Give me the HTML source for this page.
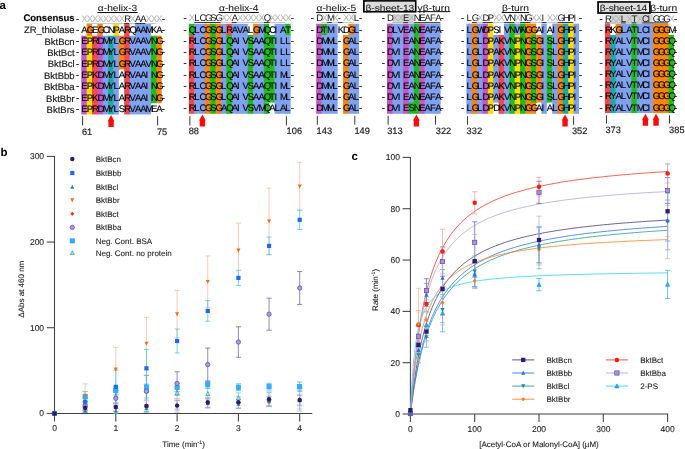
<!DOCTYPE html>
<html lang="en">
<head>
<meta charset="utf-8">
<title>Figure: thiolase alignment and kinetics</title>
<style>
html,body{margin:0;padding:0;background:#fff;}
body{width:685px;height:449px;overflow:hidden;}
svg{display:block;font-family:"Liberation Sans", Arial, Helvetica, sans-serif;text-rendering:geometricPrecision;}
.hv text{stroke:#111;stroke-width:.16px;}
.tt text{stroke:#1a1a1a;stroke-width:.08px;}
.ct text{stroke:#1c1c1c;stroke-width:.1px;}
.hv text[fill='#b4b4b4'],.hv text.cs{stroke:none;}
</style>
</head>
<body>
<svg width="685" height="449" viewBox="0 0 685 449">
<rect width="685" height="449" fill="#fff"/>
<g id="aln" font-size="9.5px" class="hv">
<text x="74.6" y="21.3" font-size="9.5px" text-anchor="end" fill="#1a1a1a" font-weight="bold" style="fill:#000">Consensus</text>
<text x="74.6" y="32.85" font-size="9.5px" text-anchor="end" fill="#1a1a1a">ZR_thiolase</text>
<text x="74.6" y="44.7" font-size="9.5px" text-anchor="end" fill="#1a1a1a">BktBcn</text>
<text x="74.6" y="56.06" font-size="9.5px" text-anchor="end" fill="#1a1a1a">BktBct</text>
<text x="74.6" y="67.42" font-size="9.5px" text-anchor="end" fill="#1a1a1a">BktBcl</text>
<text x="74.6" y="78.78" font-size="9.5px" text-anchor="end" fill="#1a1a1a">BktBbb</text>
<text x="74.6" y="90.14" font-size="9.5px" text-anchor="end" fill="#1a1a1a">BktBba</text>
<text x="74.6" y="101.5" font-size="9.5px" text-anchor="end" fill="#1a1a1a">BktBbr</text>
<text x="74.6" y="112.86" font-size="9.5px" text-anchor="end" fill="#1a1a1a">BktBrs</text>
<g class="blk">
<rect x="86.66" y="24" width="5.36" height="12.3" fill="#ff8608"/>
<rect x="97.38" y="24" width="5.36" height="12.3" fill="#ff8608"/>
<rect x="113.46" y="24" width="5.36" height="12.3" fill="#ffdc00"/>
<rect x="124.18" y="24" width="5.36" height="12.3" fill="#f04a4e"/>
<rect x="134.9" y="24" width="16.08" height="12.3" fill="#80a0f0"/>
<rect x="81.3" y="35.7" width="5.96" height="11.85" fill="#c456c8"/>
<rect x="86.66" y="35.7" width="5.96" height="11.85" fill="#ffdc00"/>
<rect x="92.02" y="35.7" width="5.96" height="11.85" fill="#f04a4e"/>
<rect x="97.38" y="35.7" width="5.96" height="11.85" fill="#c456c8"/>
<rect x="102.74" y="35.7" width="5.96" height="11.85" fill="#80a0f0"/>
<rect x="108.1" y="35.7" width="5.96" height="11.85" fill="#18a8a8"/>
<rect x="113.46" y="35.7" width="5.96" height="11.85" fill="#80a0f0"/>
<rect x="118.82" y="35.7" width="5.96" height="11.85" fill="#ff8608"/>
<rect x="124.18" y="35.7" width="5.96" height="11.85" fill="#f04a4e"/>
<rect x="129.54" y="35.7" width="22.04" height="11.85" fill="#80a0f0"/>
<rect x="150.98" y="35.7" width="5.96" height="11.85" fill="#1ac01a"/>
<rect x="156.34" y="35.7" width="5.36" height="11.85" fill="#ff8608"/>
<rect x="81.3" y="46.95" width="5.96" height="11.85" fill="#c456c8"/>
<rect x="86.66" y="46.95" width="5.96" height="11.85" fill="#ffdc00"/>
<rect x="92.02" y="46.95" width="5.96" height="11.85" fill="#f04a4e"/>
<rect x="97.38" y="46.95" width="5.96" height="11.85" fill="#c456c8"/>
<rect x="102.74" y="46.95" width="5.96" height="11.85" fill="#80a0f0"/>
<rect x="108.1" y="46.95" width="5.96" height="11.85" fill="#18a8a8"/>
<rect x="113.46" y="46.95" width="5.96" height="11.85" fill="#80a0f0"/>
<rect x="118.82" y="46.95" width="5.96" height="11.85" fill="#ff8608"/>
<rect x="124.18" y="46.95" width="5.96" height="11.85" fill="#f04a4e"/>
<rect x="129.54" y="46.95" width="22.04" height="11.85" fill="#80a0f0"/>
<rect x="150.98" y="46.95" width="5.96" height="11.85" fill="#1ac01a"/>
<rect x="156.34" y="46.95" width="5.36" height="11.85" fill="#ff8608"/>
<rect x="81.3" y="58.2" width="5.96" height="11.85" fill="#c456c8"/>
<rect x="86.66" y="58.2" width="5.96" height="11.85" fill="#ffdc00"/>
<rect x="92.02" y="58.2" width="5.96" height="11.85" fill="#f04a4e"/>
<rect x="97.38" y="58.2" width="5.96" height="11.85" fill="#c456c8"/>
<rect x="102.74" y="58.2" width="5.96" height="11.85" fill="#80a0f0"/>
<rect x="108.1" y="58.2" width="5.96" height="11.85" fill="#18a8a8"/>
<rect x="113.46" y="58.2" width="5.96" height="11.85" fill="#80a0f0"/>
<rect x="118.82" y="58.2" width="5.96" height="11.25" fill="#ff8608"/>
<rect x="124.18" y="58.2" width="5.96" height="11.85" fill="#f04a4e"/>
<rect x="129.54" y="58.2" width="22.04" height="11.85" fill="#80a0f0"/>
<rect x="150.98" y="58.2" width="5.96" height="11.85" fill="#1ac01a"/>
<rect x="156.34" y="58.2" width="5.36" height="11.85" fill="#ff8608"/>
<rect x="81.3" y="69.45" width="5.96" height="11.85" fill="#c456c8"/>
<rect x="86.66" y="69.45" width="5.96" height="11.85" fill="#ffdc00"/>
<rect x="92.02" y="69.45" width="5.96" height="11.85" fill="#f04a4e"/>
<rect x="97.38" y="69.45" width="5.96" height="11.85" fill="#c456c8"/>
<rect x="102.74" y="69.45" width="5.96" height="11.85" fill="#80a0f0"/>
<rect x="108.1" y="69.45" width="5.96" height="11.85" fill="#18a8a8"/>
<rect x="113.46" y="69.45" width="5.36" height="11.85" fill="#80a0f0"/>
<rect x="124.18" y="69.45" width="5.96" height="11.85" fill="#f04a4e"/>
<rect x="129.54" y="69.45" width="22.04" height="11.85" fill="#80a0f0"/>
<rect x="150.98" y="69.45" width="5.96" height="11.85" fill="#1ac01a"/>
<rect x="156.34" y="69.45" width="5.36" height="11.85" fill="#ff8608"/>
<rect x="81.3" y="80.7" width="5.96" height="11.85" fill="#c456c8"/>
<rect x="86.66" y="80.7" width="5.96" height="11.85" fill="#ffdc00"/>
<rect x="92.02" y="80.7" width="5.96" height="11.85" fill="#f04a4e"/>
<rect x="97.38" y="80.7" width="5.96" height="11.85" fill="#c456c8"/>
<rect x="102.74" y="80.7" width="5.96" height="11.85" fill="#80a0f0"/>
<rect x="108.1" y="80.7" width="5.96" height="11.85" fill="#18a8a8"/>
<rect x="113.46" y="80.7" width="5.36" height="11.85" fill="#80a0f0"/>
<rect x="124.18" y="80.7" width="5.96" height="11.85" fill="#f04a4e"/>
<rect x="129.54" y="80.7" width="22.04" height="11.85" fill="#80a0f0"/>
<rect x="150.98" y="80.7" width="5.96" height="11.85" fill="#1ac01a"/>
<rect x="156.34" y="80.7" width="5.36" height="11.85" fill="#ff8608"/>
<rect x="81.3" y="91.95" width="5.96" height="11.85" fill="#c456c8"/>
<rect x="86.66" y="91.95" width="5.96" height="11.85" fill="#ffdc00"/>
<rect x="92.02" y="91.95" width="5.96" height="11.85" fill="#f04a4e"/>
<rect x="97.38" y="91.95" width="5.96" height="11.85" fill="#c456c8"/>
<rect x="102.74" y="91.95" width="5.96" height="11.85" fill="#80a0f0"/>
<rect x="108.1" y="91.95" width="5.96" height="11.85" fill="#18a8a8"/>
<rect x="113.46" y="91.95" width="5.36" height="11.85" fill="#80a0f0"/>
<rect x="124.18" y="91.95" width="5.96" height="11.85" fill="#f04a4e"/>
<rect x="129.54" y="91.95" width="22.04" height="11.85" fill="#80a0f0"/>
<rect x="150.98" y="91.95" width="5.96" height="11.25" fill="#1ac01a"/>
<rect x="156.34" y="91.95" width="5.36" height="11.25" fill="#ff8608"/>
<rect x="81.3" y="103.2" width="5.96" height="11.25" fill="#c456c8"/>
<rect x="86.66" y="103.2" width="5.96" height="11.25" fill="#ffdc00"/>
<rect x="92.02" y="103.2" width="5.96" height="11.25" fill="#f04a4e"/>
<rect x="97.38" y="103.2" width="5.96" height="11.25" fill="#c456c8"/>
<rect x="102.74" y="103.2" width="5.96" height="11.25" fill="#80a0f0"/>
<rect x="108.1" y="103.2" width="5.96" height="11.25" fill="#18a8a8"/>
<rect x="113.46" y="103.2" width="5.36" height="11.25" fill="#80a0f0"/>
<rect x="124.18" y="103.2" width="5.96" height="11.25" fill="#f04a4e"/>
<rect x="129.54" y="103.2" width="21.44" height="11.25" fill="#80a0f0"/>
<rect x="86.66" y="23.05" width="69.68" height="0.7" fill="#b0b0b0"/>
<rect x="124.38" y="22.98" width="4.76" height="0.85" fill="#1a1a1a"/>
<rect x="135.1" y="22.98" width="10.12" height="0.85" fill="#1a1a1a"/>
<text class="cs" x="81.3 86.66 92.02 97.38 102.74 108.1 113.46 118.82 124.18 129.54 134.9 140.26 145.62 150.98 156.34" y="21.75" fill="#111"><tspan fill="#b4b4b4">XXXXXXXX</tspan>R<tspan fill="#b4b4b4">X</tspan>AA<tspan fill="#b4b4b4">XXX</tspan></text>
<text x="75.94" y="21.75" fill="#111">-</text>
<text x="161.7" y="21.75" fill="#111">-</text>
<text x="75.94" y="33.15" fill="#111">-</text>
<text x="161.7" y="33.15" fill="#111">-</text>
<text x="81.3 86.66 92.02 97.38 102.74 108.1 113.46 118.82 124.18 129.54 134.9 140.26 145.62 150.98 156.34" y="33.15" fill="#000">AGEGCNPARQAAMKA</text>
<text x="75.94" y="43.95" fill="#111">-</text>
<text x="161.7" y="43.95" fill="#111">-</text>
<text x="81.3 86.66 92.02 97.38 102.74 108.1 113.46 118.82 124.18 129.54 134.9 140.26 145.62 150.98 156.34" y="43.95" fill="#000">EPRDMYLGRVAAVNG</text>
<text x="75.94" y="55.29" fill="#111">-</text>
<text x="161.7" y="55.29" fill="#111">-</text>
<text x="81.3 86.66 92.02 97.38 102.74 108.1 113.46 118.82 124.18 129.54 134.9 140.26 145.62 150.98 156.34" y="55.29" fill="#000">EPRDMYLGRVAAVNG</text>
<text x="75.94" y="66.63" fill="#111">-</text>
<text x="161.7" y="66.63" fill="#111">-</text>
<text x="81.3 86.66 92.02 97.38 102.74 108.1 113.46 118.82 124.18 129.54 134.9 140.26 145.62 150.98 156.34" y="66.63" fill="#000">EPRDMYLGRVAAVNG</text>
<text x="75.94" y="77.97" fill="#111">-</text>
<text x="161.7" y="77.97" fill="#111">-</text>
<text x="81.3 86.66 92.02 97.38 102.74 108.1 113.46 118.82 124.18 129.54 134.9 140.26 145.62 150.98 156.34" y="77.97" fill="#000">EPKDMYLARVAAING</text>
<text x="75.94" y="89.31" fill="#111">-</text>
<text x="161.7" y="89.31" fill="#111">-</text>
<text x="81.3 86.66 92.02 97.38 102.74 108.1 113.46 118.82 124.18 129.54 134.9 140.26 145.62 150.98 156.34" y="89.31" fill="#000">EPKDMYLARVAAING</text>
<text x="75.94" y="100.65" fill="#111">-</text>
<text x="161.7" y="100.65" fill="#111">-</text>
<text x="81.3 86.66 92.02 97.38 102.74 108.1 113.46 118.82 124.18 129.54 134.9 140.26 145.62 150.98 156.34" y="100.65" fill="#000">EPKDMYLARVAAING</text>
<text x="75.94" y="111.99" fill="#111">-</text>
<text x="161.7" y="111.99" fill="#111">-</text>
<text x="81.3 86.66 92.02 97.38 102.74 108.1 113.46 118.82 124.18 129.54 134.9 140.26 145.62 150.98 156.34" y="111.99" fill="#000">EPRDMYLSRVAAMEA</text>
<rect x="82.15" y="116.2" width="0.9" height="9.2" fill="#222"/>
<text x="81.9" y="134.7" font-size="9.3px" fill="#1a1a1a">61</text>
<rect x="157.19" y="116.2" width="0.9" height="9.2" fill="#222"/>
<text x="156.94" y="134.7" font-size="9.3px" fill="#1a1a1a">75</text>
<path d="M111.08 115.05 l3.35 6.1 h-0.65 v5.9 h-5.4 v-5.9 h-0.65 z" fill="#ff0a0a"/>
</g>
<g class="blk">
<rect x="188.8" y="23.8" width="5.96" height="11.85" fill="#1ac01a"/>
<rect x="194.16" y="23.8" width="11.32" height="11.85" fill="#80a0f0"/>
<rect x="204.88" y="23.8" width="5.96" height="11.85" fill="#ff8608"/>
<rect x="210.24" y="23.8" width="5.96" height="11.85" fill="#1ac01a"/>
<rect x="215.6" y="23.8" width="5.96" height="11.85" fill="#ff8608"/>
<rect x="220.96" y="23.8" width="5.96" height="11.85" fill="#80a0f0"/>
<rect x="226.32" y="23.8" width="5.96" height="11.85" fill="#f04a4e"/>
<rect x="231.68" y="23.8" width="16.08" height="11.85" fill="#80a0f0"/>
<rect x="253.12" y="23.8" width="5.96" height="11.85" fill="#ff8608"/>
<rect x="258.48" y="23.8" width="5.96" height="11.85" fill="#80a0f0"/>
<rect x="263.84" y="23.8" width="5.36" height="11.85" fill="#1ac01a"/>
<rect x="274.56" y="23.8" width="11.32" height="11.85" fill="#80a0f0"/>
<rect x="285.28" y="23.8" width="5.36" height="11.85" fill="#1ac01a"/>
<rect x="188.8" y="35.05" width="5.96" height="11.85" fill="#f04a4e"/>
<rect x="194.16" y="35.05" width="11.32" height="11.85" fill="#80a0f0"/>
<rect x="204.88" y="35.05" width="5.96" height="11.85" fill="#ff8608"/>
<rect x="210.24" y="35.05" width="5.96" height="11.85" fill="#1ac01a"/>
<rect x="215.6" y="35.05" width="5.96" height="11.85" fill="#ff8608"/>
<rect x="220.96" y="35.05" width="5.96" height="11.85" fill="#80a0f0"/>
<rect x="226.32" y="35.05" width="5.96" height="11.85" fill="#1ac01a"/>
<rect x="231.68" y="35.05" width="16.68" height="11.85" fill="#80a0f0"/>
<rect x="247.76" y="35.05" width="5.96" height="11.85" fill="#1ac01a"/>
<rect x="253.12" y="35.05" width="11.32" height="11.85" fill="#80a0f0"/>
<rect x="263.84" y="35.05" width="11.32" height="11.85" fill="#1ac01a"/>
<rect x="274.56" y="35.05" width="16.08" height="11.85" fill="#80a0f0"/>
<rect x="188.8" y="46.3" width="5.96" height="11.85" fill="#f04a4e"/>
<rect x="194.16" y="46.3" width="11.32" height="11.85" fill="#80a0f0"/>
<rect x="204.88" y="46.3" width="5.96" height="11.85" fill="#ff8608"/>
<rect x="210.24" y="46.3" width="5.96" height="11.85" fill="#1ac01a"/>
<rect x="215.6" y="46.3" width="5.96" height="11.85" fill="#ff8608"/>
<rect x="220.96" y="46.3" width="5.96" height="11.85" fill="#80a0f0"/>
<rect x="226.32" y="46.3" width="5.96" height="11.85" fill="#1ac01a"/>
<rect x="231.68" y="46.3" width="16.68" height="11.85" fill="#80a0f0"/>
<rect x="247.76" y="46.3" width="5.96" height="11.85" fill="#1ac01a"/>
<rect x="253.12" y="46.3" width="11.32" height="11.85" fill="#80a0f0"/>
<rect x="263.84" y="46.3" width="11.32" height="11.85" fill="#1ac01a"/>
<rect x="274.56" y="46.3" width="16.08" height="11.85" fill="#80a0f0"/>
<rect x="188.8" y="57.55" width="5.96" height="11.85" fill="#f04a4e"/>
<rect x="194.16" y="57.55" width="11.32" height="11.85" fill="#80a0f0"/>
<rect x="204.88" y="57.55" width="5.96" height="11.85" fill="#ff8608"/>
<rect x="210.24" y="57.55" width="5.96" height="11.85" fill="#1ac01a"/>
<rect x="215.6" y="57.55" width="5.96" height="11.85" fill="#ff8608"/>
<rect x="220.96" y="57.55" width="5.96" height="11.85" fill="#80a0f0"/>
<rect x="226.32" y="57.55" width="5.96" height="11.85" fill="#1ac01a"/>
<rect x="231.68" y="57.55" width="16.68" height="11.85" fill="#80a0f0"/>
<rect x="247.76" y="57.55" width="5.96" height="11.85" fill="#1ac01a"/>
<rect x="253.12" y="57.55" width="11.32" height="11.85" fill="#80a0f0"/>
<rect x="263.84" y="57.55" width="11.32" height="11.85" fill="#1ac01a"/>
<rect x="274.56" y="57.55" width="16.08" height="11.85" fill="#80a0f0"/>
<rect x="188.8" y="68.8" width="5.96" height="11.85" fill="#f04a4e"/>
<rect x="194.16" y="68.8" width="11.32" height="11.85" fill="#80a0f0"/>
<rect x="204.88" y="68.8" width="5.96" height="11.85" fill="#ff8608"/>
<rect x="210.24" y="68.8" width="5.96" height="11.85" fill="#1ac01a"/>
<rect x="215.6" y="68.8" width="5.96" height="11.85" fill="#ff8608"/>
<rect x="220.96" y="68.8" width="5.96" height="11.85" fill="#80a0f0"/>
<rect x="226.32" y="68.8" width="5.96" height="11.85" fill="#1ac01a"/>
<rect x="231.68" y="68.8" width="16.68" height="11.85" fill="#80a0f0"/>
<rect x="247.76" y="68.8" width="5.96" height="11.85" fill="#1ac01a"/>
<rect x="253.12" y="68.8" width="11.32" height="11.85" fill="#80a0f0"/>
<rect x="263.84" y="68.8" width="11.32" height="11.85" fill="#1ac01a"/>
<rect x="274.56" y="68.8" width="16.08" height="11.85" fill="#80a0f0"/>
<rect x="188.8" y="80.05" width="5.96" height="11.85" fill="#f04a4e"/>
<rect x="194.16" y="80.05" width="11.32" height="11.85" fill="#80a0f0"/>
<rect x="204.88" y="80.05" width="5.96" height="11.85" fill="#ff8608"/>
<rect x="210.24" y="80.05" width="5.96" height="11.85" fill="#1ac01a"/>
<rect x="215.6" y="80.05" width="5.96" height="11.85" fill="#ff8608"/>
<rect x="220.96" y="80.05" width="5.96" height="11.85" fill="#80a0f0"/>
<rect x="226.32" y="80.05" width="5.96" height="11.85" fill="#1ac01a"/>
<rect x="231.68" y="80.05" width="16.68" height="11.85" fill="#80a0f0"/>
<rect x="247.76" y="80.05" width="5.96" height="11.85" fill="#1ac01a"/>
<rect x="253.12" y="80.05" width="11.32" height="11.85" fill="#80a0f0"/>
<rect x="263.84" y="80.05" width="11.32" height="11.85" fill="#1ac01a"/>
<rect x="274.56" y="80.05" width="16.08" height="11.85" fill="#80a0f0"/>
<rect x="188.8" y="91.3" width="5.96" height="11.85" fill="#f04a4e"/>
<rect x="194.16" y="91.3" width="11.32" height="11.85" fill="#80a0f0"/>
<rect x="204.88" y="91.3" width="5.96" height="11.85" fill="#ff8608"/>
<rect x="210.24" y="91.3" width="5.96" height="11.85" fill="#1ac01a"/>
<rect x="215.6" y="91.3" width="5.96" height="11.85" fill="#ff8608"/>
<rect x="220.96" y="91.3" width="5.96" height="11.85" fill="#80a0f0"/>
<rect x="226.32" y="91.3" width="5.96" height="11.85" fill="#1ac01a"/>
<rect x="231.68" y="91.3" width="16.68" height="11.85" fill="#80a0f0"/>
<rect x="247.76" y="91.3" width="5.96" height="11.85" fill="#1ac01a"/>
<rect x="253.12" y="91.3" width="11.32" height="11.85" fill="#80a0f0"/>
<rect x="263.84" y="91.3" width="11.32" height="11.25" fill="#1ac01a"/>
<rect x="274.56" y="91.3" width="16.08" height="11.85" fill="#80a0f0"/>
<rect x="188.8" y="102.55" width="5.96" height="11.25" fill="#f04a4e"/>
<rect x="194.16" y="102.55" width="11.32" height="11.25" fill="#80a0f0"/>
<rect x="204.88" y="102.55" width="5.96" height="11.25" fill="#ff8608"/>
<rect x="210.24" y="102.55" width="5.96" height="11.25" fill="#1ac01a"/>
<rect x="215.6" y="102.55" width="5.96" height="11.25" fill="#ff8608"/>
<rect x="220.96" y="102.55" width="5.96" height="11.25" fill="#80a0f0"/>
<rect x="226.32" y="102.55" width="5.96" height="11.25" fill="#1ac01a"/>
<rect x="231.68" y="102.55" width="16.68" height="11.25" fill="#80a0f0"/>
<rect x="247.76" y="102.55" width="5.96" height="11.25" fill="#1ac01a"/>
<rect x="253.12" y="102.55" width="11.32" height="11.25" fill="#80a0f0"/>
<rect x="263.84" y="102.55" width="5.36" height="11.25" fill="#1ac01a"/>
<rect x="274.56" y="102.55" width="16.08" height="11.25" fill="#80a0f0"/>
<rect x="194.16" y="22.25" width="91.12" height="0.7" fill="#b0b0b0"/>
<rect x="194.36" y="22.18" width="26.2" height="0.85" fill="#1a1a1a"/>
<rect x="231.88" y="22.18" width="4.76" height="0.85" fill="#1a1a1a"/>
<rect x="264.04" y="22.18" width="4.76" height="0.85" fill="#1a1a1a"/>
<text class="cs" x="188.8 194.16 199.52 204.88 210.24 215.6 220.96 226.32 231.68 237.04 242.4 247.76 253.12 258.48 263.84 269.2 274.56 279.92 285.28" y="20.9" fill="#111"><tspan fill="#b4b4b4">X</tspan>LCGSG<tspan fill="#b4b4b4">XX</tspan>A<tspan fill="#b4b4b4">XXXXX</tspan>Q<tspan fill="#b4b4b4">XXXX</tspan></text>
<text x="183.44" y="20.9" fill="#111">-</text>
<text x="290.64" y="20.9" fill="#111">-</text>
<text x="183.44" y="32.75" fill="#111">-</text>
<text x="290.64" y="32.75" fill="#111">-</text>
<text x="188.8 194.16 199.52 204.88 210.24 215.6 220.96 226.32 231.68 237.04 242.4 247.76 253.12 258.48 263.84 269.2 274.56 279.92 285.28" y="32.75" fill="#000">QLCGSGLRAVALGMQCIAT</text>
<text x="183.44" y="43.96" fill="#111">-</text>
<text x="290.64" y="43.96" fill="#111">-</text>
<text x="188.8 194.16 199.52 204.88 210.24 215.6 220.96 226.32 231.68 237.04 242.4 247.76 253.12 258.48 263.84 269.2 274.56 279.92 285.28" y="43.96" fill="#000">RLCGSGLQAIVSAAQTILL</text>
<text x="183.44" y="55.16" fill="#111">-</text>
<text x="290.64" y="55.16" fill="#111">-</text>
<text x="188.8 194.16 199.52 204.88 210.24 215.6 220.96 226.32 231.68 237.04 242.4 247.76 253.12 258.48 263.84 269.2 274.56 279.92 285.28" y="55.16" fill="#000">RLCGSGLQAIVSAAQTILL</text>
<text x="183.44" y="66.37" fill="#111">-</text>
<text x="290.64" y="66.37" fill="#111">-</text>
<text x="188.8 194.16 199.52 204.88 210.24 215.6 220.96 226.32 231.68 237.04 242.4 247.76 253.12 258.48 263.84 269.2 274.56 279.92 285.28" y="66.37" fill="#000">RLCGSGLQAIVSAAQTILL</text>
<text x="183.44" y="77.58" fill="#111">-</text>
<text x="290.64" y="77.58" fill="#111">-</text>
<text x="188.8 194.16 199.52 204.88 210.24 215.6 220.96 226.32 231.68 237.04 242.4 247.76 253.12 258.48 263.84 269.2 274.56 279.92 285.28" y="77.58" fill="#000">RLCGSGLQAIVSAAQTIML</text>
<text x="183.44" y="88.79" fill="#111">-</text>
<text x="290.64" y="88.79" fill="#111">-</text>
<text x="188.8 194.16 199.52 204.88 210.24 215.6 220.96 226.32 231.68 237.04 242.4 247.76 253.12 258.48 263.84 269.2 274.56 279.92 285.28" y="88.79" fill="#000">RLCGSGLQAIVSAAQTIML</text>
<text x="183.44" y="99.99" fill="#111">-</text>
<text x="290.64" y="99.99" fill="#111">-</text>
<text x="188.8 194.16 199.52 204.88 210.24 215.6 220.96 226.32 231.68 237.04 242.4 247.76 253.12 258.48 263.84 269.2 274.56 279.92 285.28" y="99.99" fill="#000">RLCGSGLQAIVSAAQTIML</text>
<text x="183.44" y="111.2" fill="#111">-</text>
<text x="290.64" y="111.2" fill="#111">-</text>
<text x="188.8 194.16 199.52 204.88 210.24 215.6 220.96 226.32 231.68 237.04 242.4 247.76 253.12 258.48 263.84 269.2 274.56 279.92 285.28" y="111.2" fill="#000">RLCGSGAQAIVSVMQALAL</text>
<rect x="189.45" y="116.2" width="0.9" height="9.2" fill="#222"/>
<text x="188.7" y="134" font-size="9.3px" fill="#1a1a1a">88</text>
<rect x="285.93" y="116.2" width="0.9" height="9.2" fill="#222"/>
<text x="286.58" y="134" font-size="9.3px" fill="#1a1a1a">106</text>
<path d="M202.4 114.4 l3.35 6.1 h-0.65 v5.9 h-5.4 v-5.9 h-0.65 z" fill="#ff0a0a"/>
</g>
<g class="blk">
<rect x="316.2" y="23.76" width="5.96" height="11.85" fill="#c456c8"/>
<rect x="321.56" y="23.76" width="5.96" height="11.85" fill="#1ac01a"/>
<rect x="326.92" y="23.76" width="10.72" height="11.85" fill="#80a0f0"/>
<rect x="348.36" y="23.76" width="5.96" height="11.85" fill="#ff8608"/>
<rect x="353.72" y="23.76" width="5.36" height="11.85" fill="#80a0f0"/>
<rect x="316.2" y="35.02" width="5.96" height="11.85" fill="#c456c8"/>
<rect x="321.56" y="35.02" width="16.08" height="11.85" fill="#80a0f0"/>
<rect x="343" y="35.02" width="5.96" height="11.85" fill="#ff8608"/>
<rect x="348.36" y="35.02" width="10.72" height="11.85" fill="#80a0f0"/>
<rect x="316.2" y="46.27" width="5.96" height="11.86" fill="#c456c8"/>
<rect x="321.56" y="46.27" width="16.08" height="11.86" fill="#80a0f0"/>
<rect x="343" y="46.27" width="5.96" height="11.86" fill="#ff8608"/>
<rect x="348.36" y="46.27" width="10.72" height="11.86" fill="#80a0f0"/>
<rect x="316.2" y="57.53" width="5.96" height="11.85" fill="#c456c8"/>
<rect x="321.56" y="57.53" width="16.08" height="11.85" fill="#80a0f0"/>
<rect x="343" y="57.53" width="5.96" height="11.85" fill="#ff8608"/>
<rect x="348.36" y="57.53" width="10.72" height="11.85" fill="#80a0f0"/>
<rect x="316.2" y="68.78" width="5.96" height="11.85" fill="#c456c8"/>
<rect x="321.56" y="68.78" width="16.08" height="11.85" fill="#80a0f0"/>
<rect x="343" y="68.78" width="5.96" height="11.85" fill="#ff8608"/>
<rect x="348.36" y="68.78" width="10.72" height="11.85" fill="#80a0f0"/>
<rect x="316.2" y="80.03" width="5.96" height="11.86" fill="#c456c8"/>
<rect x="321.56" y="80.03" width="16.08" height="11.86" fill="#80a0f0"/>
<rect x="343" y="80.03" width="5.96" height="11.86" fill="#ff8608"/>
<rect x="348.36" y="80.03" width="10.72" height="11.86" fill="#80a0f0"/>
<rect x="316.2" y="91.29" width="5.96" height="11.85" fill="#c456c8"/>
<rect x="321.56" y="91.29" width="16.08" height="11.85" fill="#80a0f0"/>
<rect x="343" y="91.29" width="5.96" height="11.85" fill="#ff8608"/>
<rect x="348.36" y="91.29" width="10.72" height="11.85" fill="#80a0f0"/>
<rect x="316.2" y="102.55" width="5.96" height="11.25" fill="#c456c8"/>
<rect x="321.56" y="102.55" width="16.08" height="11.25" fill="#80a0f0"/>
<rect x="343" y="102.55" width="5.96" height="11.25" fill="#ff8608"/>
<rect x="348.36" y="102.55" width="10.72" height="11.25" fill="#80a0f0"/>
<rect x="321.56" y="22.25" width="32.16" height="0.7" fill="#b0b0b0"/>
<rect x="327.12" y="22.18" width="4.76" height="0.85" fill="#1a1a1a"/>
<rect x="337.84" y="22.18" width="4.76" height="0.85" fill="#1a1a1a"/>
<text class="cs" x="316.2 321.56 326.92 332.28 337.64 343 348.36 353.72" y="21.4" fill="#111">D<tspan fill="#b4b4b4">X</tspan>M<tspan fill="#b4b4b4">X</tspan>-<tspan fill="#b4b4b4">XX</tspan>L</text>
<text x="310.84" y="21.4" fill="#111">-</text>
<text x="359.08" y="21.4" fill="#111">-</text>
<text x="310.84" y="32.8" fill="#111">-</text>
<text x="359.08" y="32.8" fill="#111">-</text>
<text x="316.2 321.56 326.92 332.28 337.64 343 348.36 353.72" y="32.8" fill="#000">DTM KDGL</text>
<text x="310.84" y="44" fill="#111">-</text>
<text x="359.08" y="44" fill="#111">-</text>
<text x="316.2 321.56 326.92 332.28 337.64 343 348.36 353.72" y="44" fill="#000">DMML-GAL</text>
<text x="310.84" y="55.2" fill="#111">-</text>
<text x="359.08" y="55.2" fill="#111">-</text>
<text x="316.2 321.56 326.92 332.28 337.64 343 348.36 353.72" y="55.2" fill="#000">DMML-GAL</text>
<text x="310.84" y="66.4" fill="#111">-</text>
<text x="359.08" y="66.4" fill="#111">-</text>
<text x="316.2 321.56 326.92 332.28 337.64 343 348.36 353.72" y="66.4" fill="#000">DMML-GAL</text>
<text x="310.84" y="77.6" fill="#111">-</text>
<text x="359.08" y="77.6" fill="#111">-</text>
<text x="316.2 321.56 326.92 332.28 337.64 343 348.36 353.72" y="77.6" fill="#000">DMML-GAL</text>
<text x="310.84" y="88.8" fill="#111">-</text>
<text x="359.08" y="88.8" fill="#111">-</text>
<text x="316.2 321.56 326.92 332.28 337.64 343 348.36 353.72" y="88.8" fill="#000">DMML-GAL</text>
<text x="310.84" y="100" fill="#111">-</text>
<text x="359.08" y="100" fill="#111">-</text>
<text x="316.2 321.56 326.92 332.28 337.64 343 348.36 353.72" y="100" fill="#000">DMML-GAL</text>
<text x="310.84" y="111.2" fill="#111">-</text>
<text x="359.08" y="111.2" fill="#111">-</text>
<text x="316.2 321.56 326.92 332.28 337.64 343 348.36 353.72" y="111.2" fill="#000">DMML-GAL</text>
<rect x="316.85" y="115.8" width="0.9" height="8.9" fill="#222"/>
<text x="316.6" y="134" font-size="9.3px" fill="#1a1a1a">143</text>
<rect x="354.37" y="115.8" width="0.9" height="8.9" fill="#222"/>
<text x="354.42" y="134" font-size="9.3px" fill="#1a1a1a">149</text>
</g>
<g class="blk">
<rect x="387" y="23.6" width="5.96" height="11.87" fill="#c456c8"/>
<rect x="392.36" y="23.6" width="11.32" height="11.87" fill="#80a0f0"/>
<rect x="403.08" y="23.6" width="5.96" height="11.87" fill="#c456c8"/>
<rect x="408.44" y="23.6" width="5.96" height="11.87" fill="#80a0f0"/>
<rect x="413.8" y="23.6" width="5.96" height="11.87" fill="#1ac01a"/>
<rect x="419.16" y="23.6" width="5.96" height="11.87" fill="#c456c8"/>
<rect x="424.52" y="23.6" width="16.08" height="11.87" fill="#80a0f0"/>
<rect x="387" y="34.88" width="5.96" height="11.87" fill="#c456c8"/>
<rect x="392.36" y="34.88" width="11.32" height="11.87" fill="#80a0f0"/>
<rect x="403.08" y="34.88" width="5.96" height="11.87" fill="#c456c8"/>
<rect x="408.44" y="34.88" width="5.96" height="11.87" fill="#80a0f0"/>
<rect x="413.8" y="34.88" width="5.96" height="11.87" fill="#1ac01a"/>
<rect x="419.16" y="34.88" width="5.96" height="11.87" fill="#c456c8"/>
<rect x="424.52" y="34.88" width="16.08" height="11.87" fill="#80a0f0"/>
<rect x="387" y="46.15" width="5.96" height="11.87" fill="#c456c8"/>
<rect x="392.36" y="46.15" width="11.32" height="11.87" fill="#80a0f0"/>
<rect x="403.08" y="46.15" width="5.96" height="11.87" fill="#c456c8"/>
<rect x="408.44" y="46.15" width="5.96" height="11.87" fill="#80a0f0"/>
<rect x="413.8" y="46.15" width="5.96" height="11.87" fill="#1ac01a"/>
<rect x="419.16" y="46.15" width="5.96" height="11.87" fill="#c456c8"/>
<rect x="424.52" y="46.15" width="16.08" height="11.87" fill="#80a0f0"/>
<rect x="387" y="57.42" width="5.96" height="11.87" fill="#c456c8"/>
<rect x="392.36" y="57.42" width="11.32" height="11.87" fill="#80a0f0"/>
<rect x="403.08" y="57.42" width="5.96" height="11.87" fill="#c456c8"/>
<rect x="408.44" y="57.42" width="5.96" height="11.87" fill="#80a0f0"/>
<rect x="413.8" y="57.42" width="5.96" height="11.87" fill="#1ac01a"/>
<rect x="419.16" y="57.42" width="5.96" height="11.87" fill="#c456c8"/>
<rect x="424.52" y="57.42" width="16.08" height="11.87" fill="#80a0f0"/>
<rect x="387" y="68.7" width="5.96" height="11.88" fill="#c456c8"/>
<rect x="392.36" y="68.7" width="11.32" height="11.88" fill="#80a0f0"/>
<rect x="403.08" y="68.7" width="5.96" height="11.88" fill="#c456c8"/>
<rect x="408.44" y="68.7" width="5.96" height="11.88" fill="#80a0f0"/>
<rect x="413.8" y="68.7" width="5.96" height="11.88" fill="#1ac01a"/>
<rect x="419.16" y="68.7" width="5.96" height="11.88" fill="#c456c8"/>
<rect x="424.52" y="68.7" width="16.08" height="11.88" fill="#80a0f0"/>
<rect x="387" y="79.97" width="5.96" height="11.88" fill="#c456c8"/>
<rect x="392.36" y="79.97" width="11.32" height="11.88" fill="#80a0f0"/>
<rect x="403.08" y="79.97" width="5.96" height="11.88" fill="#c456c8"/>
<rect x="408.44" y="79.97" width="5.96" height="11.88" fill="#80a0f0"/>
<rect x="413.8" y="79.97" width="5.96" height="11.88" fill="#1ac01a"/>
<rect x="419.16" y="79.97" width="5.96" height="11.88" fill="#c456c8"/>
<rect x="424.52" y="79.97" width="16.08" height="11.88" fill="#80a0f0"/>
<rect x="387" y="91.25" width="5.96" height="11.87" fill="#c456c8"/>
<rect x="392.36" y="91.25" width="11.32" height="11.87" fill="#80a0f0"/>
<rect x="403.08" y="91.25" width="5.96" height="11.87" fill="#c456c8"/>
<rect x="408.44" y="91.25" width="5.96" height="11.87" fill="#80a0f0"/>
<rect x="413.8" y="91.25" width="5.96" height="11.87" fill="#1ac01a"/>
<rect x="419.16" y="91.25" width="5.96" height="11.87" fill="#c456c8"/>
<rect x="424.52" y="91.25" width="16.08" height="11.87" fill="#80a0f0"/>
<rect x="387" y="102.52" width="5.96" height="11.28" fill="#c456c8"/>
<rect x="392.36" y="102.52" width="11.32" height="11.28" fill="#80a0f0"/>
<rect x="403.08" y="102.52" width="5.96" height="11.28" fill="#c456c8"/>
<rect x="408.44" y="102.52" width="11.32" height="11.28" fill="#1ac01a"/>
<rect x="419.16" y="102.52" width="5.96" height="11.28" fill="#c456c8"/>
<rect x="424.52" y="102.52" width="16.08" height="11.28" fill="#80a0f0"/>
<rect x="392.36" y="14.2" width="21.44" height="9.7" fill="#d4d4d4"/>
<rect x="392.36" y="22.35" width="48.24" height="0.7" fill="#b0b0b0"/>
<rect x="403.28" y="22.28" width="4.76" height="0.85" fill="#1a1a1a"/>
<rect x="414" y="22.28" width="26.2" height="0.85" fill="#1a1a1a"/>
<text class="cs" x="387 392.36 397.72 403.08 408.44 413.8 419.16 424.52 429.88 435.24" y="21.3" fill="#111">D<tspan fill="#b4b4b4">XX</tspan>E<tspan fill="#b4b4b4">X</tspan>NEAFA</text>
<text x="381.64" y="21.3" fill="#111">-</text>
<text x="440.6" y="21.3" fill="#111">-</text>
<text x="381.64" y="32.85" fill="#111">-</text>
<text x="440.6" y="32.85" fill="#111">-</text>
<text x="387 392.36 397.72 403.08 408.44 413.8 419.16 424.52 429.88 435.24" y="32.85" fill="#000">DLVEANEAFA</text>
<text x="381.64" y="44.04" fill="#111">-</text>
<text x="440.6" y="44.04" fill="#111">-</text>
<text x="387 392.36 397.72 403.08 408.44 413.8 419.16 424.52 429.88 435.24" y="44.04" fill="#000">DVIEANEAFA</text>
<text x="381.64" y="55.24" fill="#111">-</text>
<text x="440.6" y="55.24" fill="#111">-</text>
<text x="387 392.36 397.72 403.08 408.44 413.8 419.16 424.52 429.88 435.24" y="55.24" fill="#000">DVIEANEAFA</text>
<text x="381.64" y="66.43" fill="#111">-</text>
<text x="440.6" y="66.43" fill="#111">-</text>
<text x="387 392.36 397.72 403.08 408.44 413.8 419.16 424.52 429.88 435.24" y="66.43" fill="#000">DVIEANEAFA</text>
<text x="381.64" y="77.62" fill="#111">-</text>
<text x="440.6" y="77.62" fill="#111">-</text>
<text x="387 392.36 397.72 403.08 408.44 413.8 419.16 424.52 429.88 435.24" y="77.62" fill="#000">DVIEANEAFA</text>
<text x="381.64" y="88.81" fill="#111">-</text>
<text x="440.6" y="88.81" fill="#111">-</text>
<text x="387 392.36 397.72 403.08 408.44 413.8 419.16 424.52 429.88 435.24" y="88.81" fill="#000">DVIEANEAFA</text>
<text x="381.64" y="100.01" fill="#111">-</text>
<text x="440.6" y="100.01" fill="#111">-</text>
<text x="387 392.36 397.72 403.08 408.44 413.8 419.16 424.52 429.88 435.24" y="100.01" fill="#000">DVIEANEAFA</text>
<text x="381.64" y="111.2" fill="#111">-</text>
<text x="440.6" y="111.2" fill="#111">-</text>
<text x="387 392.36 397.72 403.08 408.44 413.8 419.16 424.52 429.88 435.24" y="111.2" fill="#000">DVIESNEAFA</text>
<rect x="387.65" y="115.8" width="0.9" height="8.9" fill="#222"/>
<text x="387.2" y="134" font-size="9.3px" fill="#1a1a1a">313</text>
<rect x="435.09" y="115.8" width="0.9" height="8.9" fill="#222"/>
<text x="435.74" y="134" font-size="9.3px" fill="#1a1a1a">322</text>
<path d="M416.38 114.4 l3.35 6.1 h-0.65 v5.9 h-5.4 v-5.9 h-0.65 z" fill="#ff0a0a"/>
</g>
<g class="blk">
<rect x="466.4" y="23.6" width="5.96" height="11.87" fill="#80a0f0"/>
<rect x="471.76" y="23.6" width="5.96" height="11.87" fill="#ff8608"/>
<rect x="477.12" y="23.6" width="5.96" height="11.87" fill="#80a0f0"/>
<rect x="482.48" y="23.6" width="5.96" height="11.87" fill="#c456c8"/>
<rect x="487.84" y="23.6" width="5.36" height="11.87" fill="#ffdc00"/>
<rect x="503.92" y="23.6" width="5.96" height="11.87" fill="#80a0f0"/>
<rect x="509.28" y="23.6" width="5.96" height="11.87" fill="#1ac01a"/>
<rect x="514.64" y="23.6" width="5.96" height="11.87" fill="#80a0f0"/>
<rect x="520" y="23.6" width="5.96" height="11.87" fill="#1ac01a"/>
<rect x="525.36" y="23.6" width="10.72" height="11.87" fill="#ff8608"/>
<rect x="541.44" y="23.6" width="5.36" height="11.87" fill="#80a0f0"/>
<rect x="552.16" y="23.6" width="5.96" height="11.87" fill="#80a0f0"/>
<rect x="557.52" y="23.6" width="5.96" height="11.87" fill="#ff8608"/>
<rect x="562.88" y="23.6" width="5.96" height="11.87" fill="#18a8a8"/>
<rect x="568.24" y="23.6" width="5.96" height="11.87" fill="#ffdc00"/>
<rect x="573.6" y="23.6" width="5.36" height="11.87" fill="#80a0f0"/>
<rect x="466.4" y="34.88" width="5.96" height="11.87" fill="#80a0f0"/>
<rect x="471.76" y="34.88" width="5.96" height="11.87" fill="#ff8608"/>
<rect x="477.12" y="34.88" width="5.96" height="11.87" fill="#80a0f0"/>
<rect x="482.48" y="34.88" width="5.96" height="11.87" fill="#c456c8"/>
<rect x="487.84" y="34.88" width="5.96" height="11.87" fill="#ffdc00"/>
<rect x="493.2" y="34.88" width="5.96" height="11.87" fill="#80a0f0"/>
<rect x="498.56" y="34.88" width="5.96" height="11.87" fill="#f04a4e"/>
<rect x="503.92" y="34.88" width="5.96" height="11.87" fill="#80a0f0"/>
<rect x="509.28" y="34.88" width="5.96" height="11.87" fill="#1ac01a"/>
<rect x="514.64" y="34.88" width="5.96" height="11.87" fill="#ffdc00"/>
<rect x="520" y="34.88" width="5.96" height="11.87" fill="#1ac01a"/>
<rect x="525.36" y="34.88" width="5.96" height="11.87" fill="#ff8608"/>
<rect x="530.72" y="34.88" width="5.96" height="11.87" fill="#1ac01a"/>
<rect x="536.08" y="34.88" width="5.96" height="11.87" fill="#ff8608"/>
<rect x="541.44" y="34.88" width="5.96" height="11.87" fill="#80a0f0"/>
<rect x="546.8" y="34.88" width="5.96" height="11.87" fill="#1ac01a"/>
<rect x="552.16" y="34.88" width="5.96" height="11.87" fill="#80a0f0"/>
<rect x="557.52" y="34.88" width="5.96" height="11.87" fill="#ff8608"/>
<rect x="562.88" y="34.88" width="5.96" height="11.87" fill="#18a8a8"/>
<rect x="568.24" y="34.88" width="5.96" height="11.87" fill="#ffdc00"/>
<rect x="573.6" y="34.88" width="5.36" height="11.87" fill="#80a0f0"/>
<rect x="466.4" y="46.15" width="5.96" height="11.87" fill="#80a0f0"/>
<rect x="471.76" y="46.15" width="5.96" height="11.87" fill="#ff8608"/>
<rect x="477.12" y="46.15" width="5.96" height="11.87" fill="#80a0f0"/>
<rect x="482.48" y="46.15" width="5.96" height="11.87" fill="#c456c8"/>
<rect x="487.84" y="46.15" width="5.96" height="11.87" fill="#ffdc00"/>
<rect x="493.2" y="46.15" width="5.96" height="11.87" fill="#80a0f0"/>
<rect x="498.56" y="46.15" width="5.96" height="11.87" fill="#f04a4e"/>
<rect x="503.92" y="46.15" width="5.96" height="11.87" fill="#80a0f0"/>
<rect x="509.28" y="46.15" width="5.96" height="11.87" fill="#1ac01a"/>
<rect x="514.64" y="46.15" width="5.96" height="11.87" fill="#ffdc00"/>
<rect x="520" y="46.15" width="5.96" height="11.87" fill="#1ac01a"/>
<rect x="525.36" y="46.15" width="5.96" height="11.87" fill="#ff8608"/>
<rect x="530.72" y="46.15" width="5.96" height="11.87" fill="#1ac01a"/>
<rect x="536.08" y="46.15" width="5.96" height="11.87" fill="#ff8608"/>
<rect x="541.44" y="46.15" width="5.96" height="11.87" fill="#80a0f0"/>
<rect x="546.8" y="46.15" width="5.96" height="11.87" fill="#1ac01a"/>
<rect x="552.16" y="46.15" width="5.96" height="11.87" fill="#80a0f0"/>
<rect x="557.52" y="46.15" width="5.96" height="11.87" fill="#ff8608"/>
<rect x="562.88" y="46.15" width="5.96" height="11.87" fill="#18a8a8"/>
<rect x="568.24" y="46.15" width="5.96" height="11.87" fill="#ffdc00"/>
<rect x="573.6" y="46.15" width="5.36" height="11.87" fill="#80a0f0"/>
<rect x="466.4" y="57.42" width="5.96" height="11.87" fill="#80a0f0"/>
<rect x="471.76" y="57.42" width="5.96" height="11.87" fill="#ff8608"/>
<rect x="477.12" y="57.42" width="5.96" height="11.87" fill="#80a0f0"/>
<rect x="482.48" y="57.42" width="5.96" height="11.87" fill="#c456c8"/>
<rect x="487.84" y="57.42" width="5.96" height="11.87" fill="#ffdc00"/>
<rect x="493.2" y="57.42" width="5.96" height="11.87" fill="#80a0f0"/>
<rect x="498.56" y="57.42" width="5.96" height="11.87" fill="#f04a4e"/>
<rect x="503.92" y="57.42" width="5.96" height="11.87" fill="#80a0f0"/>
<rect x="509.28" y="57.42" width="5.96" height="11.87" fill="#1ac01a"/>
<rect x="514.64" y="57.42" width="5.96" height="11.87" fill="#ffdc00"/>
<rect x="520" y="57.42" width="5.96" height="11.87" fill="#1ac01a"/>
<rect x="525.36" y="57.42" width="5.96" height="11.87" fill="#ff8608"/>
<rect x="530.72" y="57.42" width="5.96" height="11.87" fill="#1ac01a"/>
<rect x="536.08" y="57.42" width="5.96" height="11.87" fill="#ff8608"/>
<rect x="541.44" y="57.42" width="5.96" height="11.87" fill="#80a0f0"/>
<rect x="546.8" y="57.42" width="5.96" height="11.87" fill="#1ac01a"/>
<rect x="552.16" y="57.42" width="5.96" height="11.87" fill="#80a0f0"/>
<rect x="557.52" y="57.42" width="5.96" height="11.87" fill="#ff8608"/>
<rect x="562.88" y="57.42" width="5.96" height="11.87" fill="#18a8a8"/>
<rect x="568.24" y="57.42" width="5.96" height="11.87" fill="#ffdc00"/>
<rect x="573.6" y="57.42" width="5.36" height="11.87" fill="#80a0f0"/>
<rect x="466.4" y="68.7" width="5.96" height="11.88" fill="#80a0f0"/>
<rect x="471.76" y="68.7" width="5.96" height="11.88" fill="#ff8608"/>
<rect x="477.12" y="68.7" width="5.96" height="11.88" fill="#80a0f0"/>
<rect x="482.48" y="68.7" width="5.96" height="11.88" fill="#c456c8"/>
<rect x="487.84" y="68.7" width="5.96" height="11.88" fill="#ffdc00"/>
<rect x="493.2" y="68.7" width="5.96" height="11.88" fill="#80a0f0"/>
<rect x="498.56" y="68.7" width="5.96" height="11.88" fill="#f04a4e"/>
<rect x="503.92" y="68.7" width="5.96" height="11.88" fill="#80a0f0"/>
<rect x="509.28" y="68.7" width="5.96" height="11.88" fill="#1ac01a"/>
<rect x="514.64" y="68.7" width="5.96" height="11.88" fill="#ffdc00"/>
<rect x="520" y="68.7" width="5.96" height="11.88" fill="#1ac01a"/>
<rect x="525.36" y="68.7" width="5.96" height="11.88" fill="#ff8608"/>
<rect x="530.72" y="68.7" width="5.96" height="11.88" fill="#1ac01a"/>
<rect x="536.08" y="68.7" width="5.96" height="11.88" fill="#ff8608"/>
<rect x="541.44" y="68.7" width="5.96" height="11.88" fill="#80a0f0"/>
<rect x="546.8" y="68.7" width="5.96" height="11.88" fill="#1ac01a"/>
<rect x="552.16" y="68.7" width="5.96" height="11.88" fill="#80a0f0"/>
<rect x="557.52" y="68.7" width="5.96" height="11.88" fill="#ff8608"/>
<rect x="562.88" y="68.7" width="5.96" height="11.88" fill="#18a8a8"/>
<rect x="568.24" y="68.7" width="5.96" height="11.88" fill="#ffdc00"/>
<rect x="573.6" y="68.7" width="5.36" height="11.88" fill="#80a0f0"/>
<rect x="466.4" y="79.97" width="5.96" height="11.88" fill="#80a0f0"/>
<rect x="471.76" y="79.97" width="5.96" height="11.88" fill="#ff8608"/>
<rect x="477.12" y="79.97" width="5.96" height="11.88" fill="#80a0f0"/>
<rect x="482.48" y="79.97" width="5.96" height="11.88" fill="#c456c8"/>
<rect x="487.84" y="79.97" width="5.96" height="11.88" fill="#ffdc00"/>
<rect x="493.2" y="79.97" width="5.96" height="11.88" fill="#80a0f0"/>
<rect x="498.56" y="79.97" width="5.96" height="11.88" fill="#f04a4e"/>
<rect x="503.92" y="79.97" width="5.96" height="11.88" fill="#80a0f0"/>
<rect x="509.28" y="79.97" width="5.96" height="11.88" fill="#1ac01a"/>
<rect x="514.64" y="79.97" width="5.96" height="11.88" fill="#ffdc00"/>
<rect x="520" y="79.97" width="5.96" height="11.88" fill="#1ac01a"/>
<rect x="525.36" y="79.97" width="5.96" height="11.88" fill="#ff8608"/>
<rect x="530.72" y="79.97" width="5.96" height="11.88" fill="#1ac01a"/>
<rect x="536.08" y="79.97" width="5.96" height="11.88" fill="#ff8608"/>
<rect x="541.44" y="79.97" width="5.96" height="11.88" fill="#80a0f0"/>
<rect x="546.8" y="79.97" width="5.96" height="11.88" fill="#1ac01a"/>
<rect x="552.16" y="79.97" width="5.96" height="11.88" fill="#80a0f0"/>
<rect x="557.52" y="79.97" width="5.96" height="11.88" fill="#ff8608"/>
<rect x="562.88" y="79.97" width="5.96" height="11.88" fill="#18a8a8"/>
<rect x="568.24" y="79.97" width="5.96" height="11.88" fill="#ffdc00"/>
<rect x="573.6" y="79.97" width="5.36" height="11.88" fill="#80a0f0"/>
<rect x="466.4" y="91.25" width="5.96" height="11.87" fill="#80a0f0"/>
<rect x="471.76" y="91.25" width="5.96" height="11.87" fill="#ff8608"/>
<rect x="477.12" y="91.25" width="5.96" height="11.87" fill="#80a0f0"/>
<rect x="482.48" y="91.25" width="5.96" height="11.87" fill="#c456c8"/>
<rect x="487.84" y="91.25" width="5.96" height="11.87" fill="#ffdc00"/>
<rect x="493.2" y="91.25" width="5.96" height="11.27" fill="#80a0f0"/>
<rect x="498.56" y="91.25" width="5.96" height="11.87" fill="#f04a4e"/>
<rect x="503.92" y="91.25" width="5.96" height="11.87" fill="#80a0f0"/>
<rect x="509.28" y="91.25" width="5.96" height="11.87" fill="#1ac01a"/>
<rect x="514.64" y="91.25" width="5.96" height="11.87" fill="#ffdc00"/>
<rect x="520" y="91.25" width="5.96" height="11.87" fill="#1ac01a"/>
<rect x="525.36" y="91.25" width="5.96" height="11.87" fill="#ff8608"/>
<rect x="530.72" y="91.25" width="5.96" height="11.87" fill="#1ac01a"/>
<rect x="536.08" y="91.25" width="5.96" height="11.27" fill="#ff8608"/>
<rect x="541.44" y="91.25" width="5.96" height="11.87" fill="#80a0f0"/>
<rect x="546.8" y="91.25" width="5.96" height="11.27" fill="#1ac01a"/>
<rect x="552.16" y="91.25" width="5.96" height="11.87" fill="#80a0f0"/>
<rect x="557.52" y="91.25" width="5.96" height="11.87" fill="#ff8608"/>
<rect x="562.88" y="91.25" width="5.96" height="11.87" fill="#18a8a8"/>
<rect x="568.24" y="91.25" width="5.96" height="11.87" fill="#ffdc00"/>
<rect x="573.6" y="91.25" width="5.36" height="11.87" fill="#80a0f0"/>
<rect x="466.4" y="102.52" width="5.96" height="11.28" fill="#80a0f0"/>
<rect x="471.76" y="102.52" width="5.96" height="11.28" fill="#ff8608"/>
<rect x="477.12" y="102.52" width="5.96" height="11.28" fill="#80a0f0"/>
<rect x="482.48" y="102.52" width="5.96" height="11.28" fill="#c456c8"/>
<rect x="487.84" y="102.52" width="5.36" height="11.28" fill="#ffdc00"/>
<rect x="498.56" y="102.52" width="5.96" height="11.28" fill="#f04a4e"/>
<rect x="503.92" y="102.52" width="5.96" height="11.28" fill="#80a0f0"/>
<rect x="509.28" y="102.52" width="5.96" height="11.28" fill="#1ac01a"/>
<rect x="514.64" y="102.52" width="5.96" height="11.28" fill="#ffdc00"/>
<rect x="520" y="102.52" width="5.96" height="11.28" fill="#1ac01a"/>
<rect x="525.36" y="102.52" width="10.72" height="11.28" fill="#ff8608"/>
<rect x="541.44" y="102.52" width="5.36" height="11.28" fill="#80a0f0"/>
<rect x="552.16" y="102.52" width="5.96" height="11.28" fill="#80a0f0"/>
<rect x="557.52" y="102.52" width="5.96" height="11.28" fill="#ff8608"/>
<rect x="562.88" y="102.52" width="5.96" height="11.28" fill="#18a8a8"/>
<rect x="568.24" y="102.52" width="5.96" height="11.28" fill="#ffdc00"/>
<rect x="573.6" y="102.52" width="5.36" height="11.28" fill="#80a0f0"/>
<rect x="471.76" y="22.25" width="101.84" height="0.7" fill="#b0b0b0"/>
<rect x="471.96" y="22.18" width="4.76" height="0.85" fill="#1a1a1a"/>
<rect x="482.68" y="22.18" width="10.12" height="0.85" fill="#1a1a1a"/>
<rect x="504.12" y="22.18" width="10.12" height="0.85" fill="#1a1a1a"/>
<rect x="520.2" y="22.18" width="10.12" height="0.85" fill="#1a1a1a"/>
<rect x="541.64" y="22.18" width="4.76" height="0.85" fill="#1a1a1a"/>
<rect x="557.72" y="22.18" width="15.48" height="0.85" fill="#1a1a1a"/>
<text class="cs" x="466.4 471.76 477.12 482.48 487.84 493.2 498.56 503.92 509.28 514.64 520 525.36 530.72 536.08 541.44 546.8 552.16 557.52 562.88 568.24 573.6" y="21.3" fill="#111">LG<tspan fill="#b4b4b4">X</tspan>DP<tspan fill="#b4b4b4">XX</tspan>VN<tspan fill="#b4b4b4">X</tspan>NG<tspan fill="#b4b4b4">XX</tspan>I<tspan fill="#b4b4b4">XX</tspan>GHPI</text>
<text x="461.04" y="21.3" fill="#111">-</text>
<text x="578.96" y="21.3" fill="#111">-</text>
<text x="461.04" y="32.9" fill="#111">-</text>
<text x="578.96" y="32.9" fill="#111">-</text>
<text x="466.4 471.76 477.12 482.48 487.84 493.2 498.56 503.92 509.28 514.64 520 525.36 530.72 536.08 541.44 546.8 552.16 557.52 562.88 568.24 573.6" y="32.9" fill="#000">LGWDPSIVNWNGGAIAIGHPI</text>
<text x="461.04" y="44.07" fill="#111">-</text>
<text x="578.96" y="44.07" fill="#111">-</text>
<text x="466.4 471.76 477.12 482.48 487.84 493.2 498.56 503.92 509.28 514.64 520 525.36 530.72 536.08 541.44 546.8 552.16 557.52 562.88 568.24 573.6" y="44.07" fill="#000">LGLDPAKVNPNGSGISLGHPI</text>
<text x="461.04" y="55.24" fill="#111">-</text>
<text x="578.96" y="55.24" fill="#111">-</text>
<text x="466.4 471.76 477.12 482.48 487.84 493.2 498.56 503.92 509.28 514.64 520 525.36 530.72 536.08 541.44 546.8 552.16 557.52 562.88 568.24 573.6" y="55.24" fill="#000">LGLDPAKVNPNGSGISLGHPI</text>
<text x="461.04" y="66.41" fill="#111">-</text>
<text x="578.96" y="66.41" fill="#111">-</text>
<text x="466.4 471.76 477.12 482.48 487.84 493.2 498.56 503.92 509.28 514.64 520 525.36 530.72 536.08 541.44 546.8 552.16 557.52 562.88 568.24 573.6" y="66.41" fill="#000">LGLDPAKVNPNGSGISLGHPI</text>
<text x="461.04" y="77.59" fill="#111">-</text>
<text x="578.96" y="77.59" fill="#111">-</text>
<text x="466.4 471.76 477.12 482.48 487.84 493.2 498.56 503.92 509.28 514.64 520 525.36 530.72 536.08 541.44 546.8 552.16 557.52 562.88 568.24 573.6" y="77.59" fill="#000">LGLDPAKVNPNGSGISLGHPI</text>
<text x="461.04" y="88.76" fill="#111">-</text>
<text x="578.96" y="88.76" fill="#111">-</text>
<text x="466.4 471.76 477.12 482.48 487.84 493.2 498.56 503.92 509.28 514.64 520 525.36 530.72 536.08 541.44 546.8 552.16 557.52 562.88 568.24 573.6" y="88.76" fill="#000">LGLDPAKVNPNGSGISLGHPI</text>
<text x="461.04" y="99.93" fill="#111">-</text>
<text x="578.96" y="99.93" fill="#111">-</text>
<text x="466.4 471.76 477.12 482.48 487.84 493.2 498.56 503.92 509.28 514.64 520 525.36 530.72 536.08 541.44 546.8 552.16 557.52 562.88 568.24 573.6" y="99.93" fill="#000">LGLDPAKVNPNGSGISLGHPI</text>
<text x="461.04" y="111.1" fill="#111">-</text>
<text x="578.96" y="111.1" fill="#111">-</text>
<text x="466.4 471.76 477.12 482.48 487.84 493.2 498.56 503.92 509.28 514.64 520 525.36 530.72 536.08 541.44 546.8 552.16 557.52 562.88 568.24 573.6" y="111.1" fill="#000">LGLDPDKVNPNGGAIALGHPI</text>
<rect x="467.05" y="116.2" width="0.9" height="8.5" fill="#222"/>
<text x="466.6" y="133.7" font-size="9.3px" fill="#1a1a1a">332</text>
<rect x="573.15" y="116.2" width="0.9" height="8.5" fill="#222"/>
<text x="571.9" y="133.7" font-size="9.3px" fill="#1a1a1a">352</text>
<path d="M565.06 114.4 l3.35 6.1 h-0.65 v5.9 h-5.4 v-5.9 h-0.65 z" fill="#ff0a0a"/>
</g>
<g class="blk">
<rect x="604.9" y="23.76" width="5.31" height="11.77" fill="#f04a4e"/>
<rect x="615.52" y="23.76" width="5.91" height="11.77" fill="#ff8608"/>
<rect x="620.83" y="23.76" width="11.22" height="11.77" fill="#80a0f0"/>
<rect x="631.45" y="23.76" width="5.91" height="11.77" fill="#1ac01a"/>
<rect x="636.76" y="23.76" width="16.53" height="11.77" fill="#80a0f0"/>
<rect x="652.69" y="23.76" width="15.93" height="11.77" fill="#ff8608"/>
<rect x="604.9" y="34.93" width="5.91" height="11.77" fill="#f04a4e"/>
<rect x="610.21" y="34.93" width="5.91" height="11.77" fill="#18a8a8"/>
<rect x="615.52" y="34.93" width="16.53" height="11.77" fill="#80a0f0"/>
<rect x="631.45" y="34.93" width="5.91" height="11.77" fill="#1ac01a"/>
<rect x="636.76" y="34.93" width="16.53" height="11.77" fill="#80a0f0"/>
<rect x="652.69" y="34.93" width="16.53" height="11.77" fill="#ff8608"/>
<rect x="668.62" y="34.93" width="5.31" height="11.77" fill="#1ac01a"/>
<rect x="604.9" y="46.09" width="5.91" height="11.77" fill="#f04a4e"/>
<rect x="610.21" y="46.09" width="5.91" height="11.77" fill="#18a8a8"/>
<rect x="615.52" y="46.09" width="16.53" height="11.77" fill="#80a0f0"/>
<rect x="631.45" y="46.09" width="5.91" height="11.77" fill="#1ac01a"/>
<rect x="636.76" y="46.09" width="16.53" height="11.77" fill="#80a0f0"/>
<rect x="652.69" y="46.09" width="16.53" height="11.77" fill="#ff8608"/>
<rect x="668.62" y="46.09" width="5.31" height="11.77" fill="#1ac01a"/>
<rect x="604.9" y="57.26" width="5.91" height="11.77" fill="#f04a4e"/>
<rect x="610.21" y="57.26" width="5.91" height="11.77" fill="#18a8a8"/>
<rect x="615.52" y="57.26" width="16.53" height="11.77" fill="#80a0f0"/>
<rect x="631.45" y="57.26" width="5.91" height="11.77" fill="#1ac01a"/>
<rect x="636.76" y="57.26" width="16.53" height="11.77" fill="#80a0f0"/>
<rect x="652.69" y="57.26" width="16.53" height="11.77" fill="#ff8608"/>
<rect x="668.62" y="57.26" width="5.31" height="11.77" fill="#1ac01a"/>
<rect x="604.9" y="68.43" width="5.91" height="11.77" fill="#f04a4e"/>
<rect x="610.21" y="68.43" width="5.91" height="11.77" fill="#18a8a8"/>
<rect x="615.52" y="68.43" width="16.53" height="11.77" fill="#80a0f0"/>
<rect x="631.45" y="68.43" width="5.91" height="11.77" fill="#1ac01a"/>
<rect x="636.76" y="68.43" width="16.53" height="11.77" fill="#80a0f0"/>
<rect x="652.69" y="68.43" width="16.53" height="11.77" fill="#ff8608"/>
<rect x="668.62" y="68.43" width="5.31" height="11.77" fill="#1ac01a"/>
<rect x="604.9" y="79.6" width="5.91" height="11.77" fill="#f04a4e"/>
<rect x="610.21" y="79.6" width="5.91" height="11.77" fill="#18a8a8"/>
<rect x="615.52" y="79.6" width="16.53" height="11.77" fill="#80a0f0"/>
<rect x="631.45" y="79.6" width="5.91" height="11.77" fill="#1ac01a"/>
<rect x="636.76" y="79.6" width="16.53" height="11.77" fill="#80a0f0"/>
<rect x="652.69" y="79.6" width="16.53" height="11.77" fill="#ff8608"/>
<rect x="668.62" y="79.6" width="5.31" height="11.77" fill="#1ac01a"/>
<rect x="604.9" y="90.77" width="5.91" height="11.77" fill="#f04a4e"/>
<rect x="610.21" y="90.77" width="5.91" height="11.77" fill="#18a8a8"/>
<rect x="615.52" y="90.77" width="16.53" height="11.77" fill="#80a0f0"/>
<rect x="631.45" y="90.77" width="5.91" height="11.77" fill="#1ac01a"/>
<rect x="636.76" y="90.77" width="16.53" height="11.77" fill="#80a0f0"/>
<rect x="652.69" y="90.77" width="16.53" height="11.77" fill="#ff8608"/>
<rect x="668.62" y="90.77" width="5.31" height="11.77" fill="#1ac01a"/>
<rect x="604.9" y="101.93" width="5.91" height="11.17" fill="#f04a4e"/>
<rect x="610.21" y="101.93" width="5.91" height="11.17" fill="#18a8a8"/>
<rect x="615.52" y="101.93" width="16.53" height="11.17" fill="#80a0f0"/>
<rect x="631.45" y="101.93" width="5.91" height="11.17" fill="#1ac01a"/>
<rect x="636.76" y="101.93" width="16.53" height="11.17" fill="#80a0f0"/>
<rect x="652.69" y="101.93" width="16.53" height="11.17" fill="#ff8608"/>
<rect x="668.62" y="101.93" width="5.31" height="11.17" fill="#1ac01a"/>
<rect x="610.21" y="14.2" width="42.48" height="9.86" fill="#d4d4d4"/>
<rect x="604.9" y="22.55" width="63.72" height="0.7" fill="#b0b0b0"/>
<rect x="605.1" y="22.48" width="4.71" height="0.85" fill="#1a1a1a"/>
<rect x="621.03" y="22.48" width="4.71" height="0.85" fill="#1a1a1a"/>
<rect x="631.65" y="22.48" width="4.71" height="0.85" fill="#1a1a1a"/>
<rect x="642.27" y="22.48" width="25.95" height="0.85" fill="#1a1a1a"/>
<text class="cs" x="604.9 610.21 615.52 620.83 626.14 631.45 636.76 642.07 647.38 652.69 658 663.31 668.62" y="21.6" fill="#111">R<tspan fill="#b4b4b4">XX</tspan>L<tspan fill="#b4b4b4">X</tspan>T<tspan fill="#b4b4b4">X</tspan>CIGGG<tspan fill="#b4b4b4">X</tspan></text>
<text x="599.59" y="21.6" fill="#111">-</text>
<text x="673.93" y="21.6" fill="#111">-</text>
<text x="599.59" y="32.95" fill="#111">-</text>
<text x="673.93" y="32.95" fill="#111">-</text>
<text x="604.9 610.21 615.52 620.83 626.14 631.45 636.76 642.07 647.38 652.69 658 663.31 668.62" y="32.95" fill="#000">RKGLATLCIGGGM</text>
<text x="599.59" y="44.03" fill="#111">-</text>
<text x="673.93" y="44.03" fill="#111">-</text>
<text x="604.9 610.21 615.52 620.83 626.14 631.45 636.76 642.07 647.38 652.69 658 663.31 668.62" y="44.03" fill="#000">RYALVTMCIGGGQ</text>
<text x="599.59" y="55.11" fill="#111">-</text>
<text x="673.93" y="55.11" fill="#111">-</text>
<text x="604.9 610.21 615.52 620.83 626.14 631.45 636.76 642.07 647.38 652.69 658 663.31 668.62" y="55.11" fill="#000">RYALVTMCIGGGQ</text>
<text x="599.59" y="66.19" fill="#111">-</text>
<text x="673.93" y="66.19" fill="#111">-</text>
<text x="604.9 610.21 615.52 620.83 626.14 631.45 636.76 642.07 647.38 652.69 658 663.31 668.62" y="66.19" fill="#000">RYALVTMCIGGGQ</text>
<text x="599.59" y="77.26" fill="#111">-</text>
<text x="673.93" y="77.26" fill="#111">-</text>
<text x="604.9 610.21 615.52 620.83 626.14 631.45 636.76 642.07 647.38 652.69 658 663.31 668.62" y="77.26" fill="#000">RYALVTMCIGGGQ</text>
<text x="599.59" y="88.34" fill="#111">-</text>
<text x="673.93" y="88.34" fill="#111">-</text>
<text x="604.9 610.21 615.52 620.83 626.14 631.45 636.76 642.07 647.38 652.69 658 663.31 668.62" y="88.34" fill="#000">RYALVTMCIGGGQ</text>
<text x="599.59" y="99.42" fill="#111">-</text>
<text x="673.93" y="99.42" fill="#111">-</text>
<text x="604.9 610.21 615.52 620.83 626.14 631.45 636.76 642.07 647.38 652.69 658 663.31 668.62" y="99.42" fill="#000">RYALVTMCIGGGQ</text>
<text x="599.59" y="110.5" fill="#111">-</text>
<text x="673.93" y="110.5" fill="#111">-</text>
<text x="604.9 610.21 615.52 620.83 626.14 631.45 636.76 642.07 647.38 652.69 658 663.31 668.62" y="110.5" fill="#000">RYALVTMCIGGGQ</text>
<rect x="606.05" y="115.3" width="0.9" height="8.3" fill="#222"/>
<text x="605.4" y="133" font-size="9.3px" fill="#1a1a1a">373</text>
<rect x="669.07" y="115.3" width="0.9" height="8.3" fill="#222"/>
<text x="669.12" y="133" font-size="9.3px" fill="#1a1a1a">385</text>
<path d="M645.42 113.7 l3.35 6.1 h-0.65 v5.9 h-5.4 v-5.9 h-0.65 z" fill="#ff0a0a"/>
<path d="M656.04 113.7 l3.35 6.1 h-0.65 v5.9 h-5.4 v-5.9 h-0.65 z" fill="#ff0a0a"/>
</g>
</g>
<g id="titles" class="tt">
<text transform="translate(97.8,10.9) scale(1.15,1)" font-size="8.9px" fill="#1a1a1a" textLength="34.35" lengthAdjust="spacing">α-helix-3</text><rect x="97.5" y="12" width="40.1" height="1.05" fill="#111"/>
<text transform="translate(219,10.9) scale(1.15,1)" font-size="8.9px" fill="#1a1a1a" textLength="34.26" lengthAdjust="spacing">α-helix-4</text><rect x="218.7" y="12" width="40" height="1.05" fill="#111"/>
<text transform="translate(316.5,10.9) scale(1.15,1)" font-size="8.9px" fill="#1a1a1a" textLength="34.43" lengthAdjust="spacing">α-helix-5</text><rect x="316.2" y="12" width="40.2" height="1.05" fill="#111"/>
<rect x="363.85" y="0.95" width="51.8" height="10.75" fill="#fff" stroke="#000" stroke-width="1.75"/>
<rect x="365.7" y="1.8" width="48.9" height="9.05" fill="#dcdcdc"/>
<text transform="translate(365.5,10.6) scale(1.15,1)" font-size="8.9px" fill="#1a1a1a" textLength="42.43" lengthAdjust="spacing">β-sheet-13</text>
<text transform="translate(417.6,10.6) scale(1.15,1)" font-size="8.9px" fill="#1a1a1a" textLength="28.17" lengthAdjust="spacing">γβ-turn</text><rect x="417.3" y="11.1" width="33" height="1.05" fill="#111"/>
<text transform="translate(502,10.9) scale(1.15,1)" font-size="8.9px" fill="#1a1a1a" textLength="23.39" lengthAdjust="spacing">β-turn</text><rect x="501.7" y="12" width="27.5" height="1.05" fill="#111"/>
<text transform="translate(650.3,10.8) scale(1.15,1)" font-size="8.9px" fill="#1a1a1a" textLength="23.3" lengthAdjust="spacing">β-turn</text><rect x="650" y="11.9" width="27.4" height="1.05" fill="#111"/>
<rect x="598.1" y="2.0" width="51.8" height="11.0" fill="#fff" stroke="#000" stroke-width="1.75"/>
<rect x="599.85" y="2.85" width="47.7" height="9.2" fill="#dcdcdc"/>
<text transform="translate(599.7,10.8) scale(1.15,1)" font-size="8.9px" fill="#1a1a1a" textLength="41.39" lengthAdjust="spacing">β-sheet-14</text>
</g>
<g font-weight="bold" font-size="11.5px" fill="#000">
<text x="-0.6" y="9.2">a</text>
<text x="0.6" y="156.2">b</text>
<text x="351.6" y="159.7">c</text>
</g>
<g id="chartb" class="ct" font-size="8.5px" fill="#1c1c1c">
<path d="M54.5 155.9 V413.4 H312.3" stroke="#404040" stroke-width="1.05" fill="none"/>
<path d="M54.5 413.4 v8.1" stroke="#404040" stroke-width="1.05"/>
<text x="54.5" y="431.1" text-anchor="middle">0</text>
<path d="M115.8 413.4 v8.1" stroke="#404040" stroke-width="1.05"/>
<text x="115.8" y="431.1" text-anchor="middle">1</text>
<path d="M177.1 413.4 v8.1" stroke="#404040" stroke-width="1.05"/>
<text x="177.1" y="431.1" text-anchor="middle">2</text>
<path d="M238.4 413.4 v8.1" stroke="#404040" stroke-width="1.05"/>
<text x="238.4" y="431.1" text-anchor="middle">3</text>
<path d="M299.7 413.4 v8.1" stroke="#404040" stroke-width="1.05"/>
<text x="299.7" y="431.1" text-anchor="middle">4</text>
<path d="M54.5 413.4 h-7.8" stroke="#404040" stroke-width="1.05"/>
<text x="44.1" y="416.45" text-anchor="end">0</text>
<path d="M54.5 327.73 h-7.8" stroke="#404040" stroke-width="1.05"/>
<text x="44.1" y="330.78" text-anchor="end">100</text>
<path d="M54.5 242.07 h-7.8" stroke="#404040" stroke-width="1.05"/>
<text x="44.1" y="245.12" text-anchor="end">200</text>
<path d="M54.5 156.4 h-7.8" stroke="#404040" stroke-width="1.05"/>
<text x="44.1" y="159.45" text-anchor="end">300</text>
<g>
<path d="M85.15 408.26 V397.98 M82.55 408.26 h5.2 M82.55 397.98 h5.2" stroke="#6cc4c8" stroke-width="0.72" fill="none"/>
<path d="M115.8 403.12 V389.41 M113.2 403.12 h5.2 M113.2 389.41 h5.2" stroke="#6cc4c8" stroke-width="0.72" fill="none"/>
<path d="M146.45 397.98 V384.27 M143.85 397.98 h5.2 M143.85 384.27 h5.2" stroke="#6cc4c8" stroke-width="0.72" fill="none"/>
<path d="M177.1 398.84 V386.84 M174.5 398.84 h5.2 M174.5 386.84 h5.2" stroke="#6cc4c8" stroke-width="0.72" fill="none"/>
<path d="M207.75 398.84 V388.56 M205.15 398.84 h5.2 M205.15 388.56 h5.2" stroke="#6cc4c8" stroke-width="0.72" fill="none"/>
<path d="M238.4 403.12 V392.84 M235.8 403.12 h5.2 M235.8 392.84 h5.2" stroke="#6cc4c8" stroke-width="0.72" fill="none"/>
<path d="M269.05 405.69 V391.98 M266.45 405.69 h5.2 M266.45 391.98 h5.2" stroke="#6cc4c8" stroke-width="0.72" fill="none"/>
<path d="M299.7 409.12 V390.27 M297.1 409.12 h5.2 M297.1 390.27 h5.2" stroke="#6cc4c8" stroke-width="0.72" fill="none"/>
<path d="M85.15 401.83 V391.55 M82.55 401.83 h5.2 M82.55 391.55 h5.2" stroke="#3aa8f0" stroke-width="0.72" fill="none"/>
<path d="M115.8 394.9 V386.33 M113.2 394.9 h5.2 M113.2 386.33 h5.2" stroke="#3aa8f0" stroke-width="0.72" fill="none"/>
<path d="M146.45 391.13 V384.27 M143.85 391.13 h5.2 M143.85 384.27 h5.2" stroke="#3aa8f0" stroke-width="0.72" fill="none"/>
<path d="M177.1 391.73 V383.16 M174.5 391.73 h5.2 M174.5 383.16 h5.2" stroke="#3aa8f0" stroke-width="0.72" fill="none"/>
<path d="M207.75 387.96 V381.1 M205.15 387.96 h5.2 M205.15 381.1 h5.2" stroke="#3aa8f0" stroke-width="0.72" fill="none"/>
<path d="M238.4 390.7 V383.84 M235.8 390.7 h5.2 M235.8 383.84 h5.2" stroke="#3aa8f0" stroke-width="0.72" fill="none"/>
<path d="M269.05 390.1 V383.25 M266.45 390.1 h5.2 M266.45 383.25 h5.2" stroke="#3aa8f0" stroke-width="0.72" fill="none"/>
<path d="M299.7 391.38 V381.96 M297.1 391.38 h5.2 M297.1 381.96 h5.2" stroke="#3aa8f0" stroke-width="0.72" fill="none"/>
<path d="M85.15 410.32 V401.75 M82.55 410.32 h5.2 M82.55 401.75 h5.2" stroke="#6a5a9e" stroke-width="0.72" fill="none"/>
<path d="M115.8 406.03 V390.61 M113.2 406.03 h5.2 M113.2 390.61 h5.2" stroke="#6a5a9e" stroke-width="0.72" fill="none"/>
<path d="M146.45 406.97 V375.28 M143.85 406.97 h5.2 M143.85 375.28 h5.2" stroke="#6a5a9e" stroke-width="0.72" fill="none"/>
<path d="M177.1 395.07 V371.77 M174.5 395.07 h5.2 M174.5 371.77 h5.2" stroke="#6a5a9e" stroke-width="0.72" fill="none"/>
<path d="M207.75 381.1 V348.04 M205.15 381.1 h5.2 M205.15 348.04 h5.2" stroke="#6a5a9e" stroke-width="0.72" fill="none"/>
<path d="M238.4 357.29 V326.79 M235.8 357.29 h5.2 M235.8 326.79 h5.2" stroke="#6a5a9e" stroke-width="0.72" fill="none"/>
<path d="M269.05 330.22 V298.18 M266.45 330.22 h5.2 M266.45 298.18 h5.2" stroke="#6a5a9e" stroke-width="0.72" fill="none"/>
<path d="M299.7 304.43 V271.54 M297.1 304.43 h5.2 M297.1 271.54 h5.2" stroke="#6a5a9e" stroke-width="0.72" fill="none"/>
<path d="M85.15 411.69 V406.55 M82.55 411.69 h5.2 M82.55 406.55 h5.2" stroke="#f4a8b0" stroke-width="0.72" fill="none"/>
<path d="M115.8 411.69 V404.83 M113.2 411.69 h5.2 M113.2 404.83 h5.2" stroke="#f4a8b0" stroke-width="0.72" fill="none"/>
<path d="M146.45 411.69 V399.69 M143.85 411.69 h5.2 M143.85 399.69 h5.2" stroke="#f4a8b0" stroke-width="0.72" fill="none"/>
<path d="M177.1 412.54 V398.84 M174.5 412.54 h5.2 M174.5 398.84 h5.2" stroke="#f4a8b0" stroke-width="0.72" fill="none"/>
<path d="M207.75 408.26 V397.98 M205.15 408.26 h5.2 M205.15 397.98 h5.2" stroke="#f4a8b0" stroke-width="0.72" fill="none"/>
<path d="M238.4 408.26 V397.98 M235.8 408.26 h5.2 M235.8 397.98 h5.2" stroke="#f4a8b0" stroke-width="0.72" fill="none"/>
<path d="M269.05 405.69 V397.12 M266.45 405.69 h5.2 M266.45 397.12 h5.2" stroke="#f4a8b0" stroke-width="0.72" fill="none"/>
<path d="M299.7 404.83 V394.55 M297.1 404.83 h5.2 M297.1 394.55 h5.2" stroke="#f4a8b0" stroke-width="0.72" fill="none"/>
<path d="M85.15 406.97 V383.84 M82.55 406.97 h5.2 M82.55 383.84 h5.2" stroke="#ffb49c" stroke-width="0.72" fill="none"/>
<path d="M115.8 391.3 V347.44 M113.2 391.3 h5.2 M113.2 347.44 h5.2" stroke="#ffb49c" stroke-width="0.72" fill="none"/>
<path d="M146.45 369.54 V317.45 M143.85 369.54 h5.2 M143.85 317.45 h5.2" stroke="#ffb49c" stroke-width="0.72" fill="none"/>
<path d="M177.1 337.58 V290.47 M174.5 337.58 h5.2 M174.5 290.47 h5.2" stroke="#ffb49c" stroke-width="0.72" fill="none"/>
<path d="M207.75 307.34 V255.94 M205.15 307.34 h5.2 M205.15 255.94 h5.2" stroke="#ffb49c" stroke-width="0.72" fill="none"/>
<path d="M238.4 277.53 V223.05 M235.8 277.53 h5.2 M235.8 223.05 h5.2" stroke="#ffb49c" stroke-width="0.72" fill="none"/>
<path d="M269.05 254.23 V188.1 M266.45 254.23 h5.2 M266.45 188.1 h5.2" stroke="#ffb49c" stroke-width="0.72" fill="none"/>
<path d="M299.7 210.37 V162.4 M297.1 210.37 h5.2 M297.1 162.4 h5.2" stroke="#ffb49c" stroke-width="0.72" fill="none"/>
<path d="M85.15 412.54 V409.12 M82.55 412.54 h5.2 M82.55 409.12 h5.2" stroke="#58b4b8" stroke-width="0.72" fill="none"/>
<path d="M115.8 413.4 V408.26 M113.2 413.4 h5.2 M113.2 408.26 h5.2" stroke="#58b4b8" stroke-width="0.72" fill="none"/>
<path d="M146.45 411.69 V404.83 M143.85 411.69 h5.2 M143.85 404.83 h5.2" stroke="#58b4b8" stroke-width="0.72" fill="none"/>
<path d="M177.1 409.12 V400.55 M174.5 409.12 h5.2 M174.5 400.55 h5.2" stroke="#58b4b8" stroke-width="0.72" fill="none"/>
<path d="M207.75 407.4 V398.84 M205.15 407.4 h5.2 M205.15 398.84 h5.2" stroke="#58b4b8" stroke-width="0.72" fill="none"/>
<path d="M238.4 408.26 V399.69 M235.8 408.26 h5.2 M235.8 399.69 h5.2" stroke="#58b4b8" stroke-width="0.72" fill="none"/>
<path d="M269.05 406.55 V396.27 M266.45 406.55 h5.2 M266.45 396.27 h5.2" stroke="#58b4b8" stroke-width="0.72" fill="none"/>
<path d="M299.7 405.69 V395.41 M297.1 405.69 h5.2 M297.1 395.41 h5.2" stroke="#58b4b8" stroke-width="0.72" fill="none"/>
<path d="M85.15 406.89 V396.61 M82.55 406.89 h5.2 M82.55 396.61 h5.2" stroke="#3cc4ec" stroke-width="0.72" fill="none"/>
<path d="M115.8 403.55 V370.14 M113.2 403.55 h5.2 M113.2 370.14 h5.2" stroke="#3cc4ec" stroke-width="0.72" fill="none"/>
<path d="M146.45 412.2 V349.49 M143.85 412.2 h5.2 M143.85 349.49 h5.2" stroke="#3cc4ec" stroke-width="0.72" fill="none"/>
<path d="M177.1 353 V329.02 M174.5 353 h5.2 M174.5 329.02 h5.2" stroke="#3cc4ec" stroke-width="0.72" fill="none"/>
<path d="M207.75 321.22 V300.66 M205.15 321.22 h5.2 M205.15 300.66 h5.2" stroke="#3cc4ec" stroke-width="0.72" fill="none"/>
<path d="M238.4 285.41 V270.34 M235.8 285.41 h5.2 M235.8 270.34 h5.2" stroke="#3cc4ec" stroke-width="0.72" fill="none"/>
<path d="M269.05 254.83 V237.01 M266.45 254.83 h5.2 M266.45 237.01 h5.2" stroke="#3cc4ec" stroke-width="0.72" fill="none"/>
<path d="M299.7 229.47 V210.11 M297.1 229.47 h5.2 M297.1 210.11 h5.2" stroke="#3cc4ec" stroke-width="0.72" fill="none"/>
<path d="M85.15 411.17 V404.32 M82.55 411.17 h5.2 M82.55 404.32 h5.2" stroke="#b8a8dc" stroke-width="0.72" fill="none"/>
<path d="M115.8 411.26 V402.69 M113.2 411.26 h5.2 M113.2 402.69 h5.2" stroke="#b8a8dc" stroke-width="0.72" fill="none"/>
<path d="M146.45 411.09 V400.81 M143.85 411.09 h5.2 M143.85 400.81 h5.2" stroke="#b8a8dc" stroke-width="0.72" fill="none"/>
<path d="M177.1 410.74 V400.46 M174.5 410.74 h5.2 M174.5 400.46 h5.2" stroke="#b8a8dc" stroke-width="0.72" fill="none"/>
<path d="M207.75 407.4 V397.12 M205.15 407.4 h5.2 M205.15 397.12 h5.2" stroke="#b8a8dc" stroke-width="0.72" fill="none"/>
<path d="M238.4 408.26 V396.27 M235.8 408.26 h5.2 M235.8 396.27 h5.2" stroke="#b8a8dc" stroke-width="0.72" fill="none"/>
<path d="M269.05 406.03 V392.33 M266.45 406.03 h5.2 M266.45 392.33 h5.2" stroke="#b8a8dc" stroke-width="0.72" fill="none"/>
<path d="M299.7 411.17 V388.9 M297.1 411.17 h5.2 M297.1 388.9 h5.2" stroke="#b8a8dc" stroke-width="0.72" fill="none"/>
</g>
<g>
<path d="M54.5 411.27 l2.04 3.89 h-4.07 z" fill="#a8e4f0" stroke="#2a9cb0" stroke-width="0.7"/>
<path d="M85.15 400.99 l2.04 3.89 h-4.07 z" fill="#a8e4f0" stroke="#2a9cb0" stroke-width="0.7"/>
<path d="M115.8 394.14 l2.04 3.89 h-4.07 z" fill="#a8e4f0" stroke="#2a9cb0" stroke-width="0.7"/>
<path d="M146.45 389 l2.04 3.89 h-4.07 z" fill="#a8e4f0" stroke="#2a9cb0" stroke-width="0.7"/>
<path d="M177.1 390.71 l2.04 3.89 h-4.07 z" fill="#a8e4f0" stroke="#2a9cb0" stroke-width="0.7"/>
<path d="M207.75 391.57 l2.04 3.89 h-4.07 z" fill="#a8e4f0" stroke="#2a9cb0" stroke-width="0.7"/>
<path d="M238.4 395.85 l2.04 3.89 h-4.07 z" fill="#a8e4f0" stroke="#2a9cb0" stroke-width="0.7"/>
<path d="M269.05 396.71 l2.04 3.89 h-4.07 z" fill="#a8e4f0" stroke="#2a9cb0" stroke-width="0.7"/>
<path d="M299.7 397.57 l2.04 3.89 h-4.07 z" fill="#a8e4f0" stroke="#2a9cb0" stroke-width="0.7"/>
<rect x="52.4" y="411.3" width="4.2" height="4.2" fill="#28b4f8" stroke="#2a9cf0" stroke-width="0.7"/>
<rect x="83.05" y="394.59" width="4.2" height="4.2" fill="#28b4f8" stroke="#2a9cf0" stroke-width="0.7"/>
<rect x="113.7" y="388.51" width="4.2" height="4.2" fill="#28b4f8" stroke="#2a9cf0" stroke-width="0.7"/>
<rect x="144.35" y="385.6" width="4.2" height="4.2" fill="#28b4f8" stroke="#2a9cf0" stroke-width="0.7"/>
<rect x="175" y="385.34" width="4.2" height="4.2" fill="#28b4f8" stroke="#2a9cf0" stroke-width="0.7"/>
<rect x="205.65" y="382.43" width="4.2" height="4.2" fill="#28b4f8" stroke="#2a9cf0" stroke-width="0.7"/>
<rect x="236.3" y="385.17" width="4.2" height="4.2" fill="#28b4f8" stroke="#2a9cf0" stroke-width="0.7"/>
<rect x="266.95" y="384.57" width="4.2" height="4.2" fill="#28b4f8" stroke="#2a9cf0" stroke-width="0.7"/>
<rect x="297.6" y="384.57" width="4.2" height="4.2" fill="#28b4f8" stroke="#2a9cf0" stroke-width="0.7"/>
<circle cx="54.5" cy="413.4" r="2.2" fill="#ac98de" stroke="#5e4a9c" stroke-width="0.7"/>
<circle cx="85.15" cy="406.03" r="2.2" fill="#ac98de" stroke="#5e4a9c" stroke-width="0.7"/>
<circle cx="115.8" cy="398.32" r="2.2" fill="#ac98de" stroke="#5e4a9c" stroke-width="0.7"/>
<circle cx="146.45" cy="391.13" r="2.2" fill="#ac98de" stroke="#5e4a9c" stroke-width="0.7"/>
<circle cx="177.1" cy="383.42" r="2.2" fill="#ac98de" stroke="#5e4a9c" stroke-width="0.7"/>
<circle cx="207.75" cy="364.57" r="2.2" fill="#ac98de" stroke="#5e4a9c" stroke-width="0.7"/>
<circle cx="238.4" cy="342.04" r="2.2" fill="#ac98de" stroke="#5e4a9c" stroke-width="0.7"/>
<circle cx="269.05" cy="314.2" r="2.2" fill="#ac98de" stroke="#5e4a9c" stroke-width="0.7"/>
<circle cx="299.7" cy="287.98" r="2.2" fill="#ac98de" stroke="#5e4a9c" stroke-width="0.7"/>
<path d="M54.5 411.4 l2 2 l-2 2 l-2 -2 z" fill="#ff2a0a"/>
<path d="M85.15 407.12 l2 2 l-2 2 l-2 -2 z" fill="#ff2a0a"/>
<path d="M115.8 406.26 l2 2 l-2 2 l-2 -2 z" fill="#ff2a0a"/>
<path d="M146.45 403.69 l2 2 l-2 2 l-2 -2 z" fill="#ff2a0a"/>
<path d="M177.1 403.69 l2 2 l-2 2 l-2 -2 z" fill="#ff2a0a"/>
<path d="M207.75 401.12 l2 2 l-2 2 l-2 -2 z" fill="#ff2a0a"/>
<path d="M238.4 401.12 l2 2 l-2 2 l-2 -2 z" fill="#ff2a0a"/>
<path d="M269.05 399.41 l2 2 l-2 2 l-2 -2 z" fill="#ff2a0a"/>
<path d="M299.7 397.69 l2 2 l-2 2 l-2 -2 z" fill="#ff2a0a"/>
<path d="M54.5 415.53 l2.04 -3.89 h-4.07 z" fill="#ff6a10"/>
<path d="M85.15 397.54 l2.04 -3.89 h-4.07 z" fill="#ff6a10"/>
<path d="M115.8 371.49 l2.04 -3.89 h-4.07 z" fill="#ff6a10"/>
<path d="M146.45 345.62 l2.04 -3.89 h-4.07 z" fill="#ff6a10"/>
<path d="M177.1 316.15 l2.04 -3.89 h-4.07 z" fill="#ff6a10"/>
<path d="M207.75 283.77 l2.04 -3.89 h-4.07 z" fill="#ff6a10"/>
<path d="M238.4 252.42 l2.04 -3.89 h-4.07 z" fill="#ff6a10"/>
<path d="M269.05 223.29 l2.04 -3.89 h-4.07 z" fill="#ff6a10"/>
<path d="M299.7 188.51 l2.04 -3.89 h-4.07 z" fill="#ff6a10"/>
<path d="M54.5 411.27 l2.04 3.89 h-4.07 z" fill="#1b8a9c"/>
<path d="M85.15 408.7 l2.04 3.89 h-4.07 z" fill="#1b8a9c"/>
<path d="M115.8 408.7 l2.04 3.89 h-4.07 z" fill="#1b8a9c"/>
<path d="M146.45 406.13 l2.04 3.89 h-4.07 z" fill="#1b8a9c"/>
<path d="M177.1 402.71 l2.04 3.89 h-4.07 z" fill="#1b8a9c"/>
<path d="M207.75 400.99 l2.04 3.89 h-4.07 z" fill="#1b8a9c"/>
<path d="M238.4 401.85 l2.04 3.89 h-4.07 z" fill="#1b8a9c"/>
<path d="M269.05 399.28 l2.04 3.89 h-4.07 z" fill="#1b8a9c"/>
<path d="M299.7 398.42 l2.04 3.89 h-4.07 z" fill="#1b8a9c"/>
<rect x="52.4" y="411.3" width="4.2" height="4.2" fill="#1e6af0"/>
<rect x="83.05" y="399.65" width="4.2" height="4.2" fill="#1e6af0"/>
<rect x="113.7" y="384.74" width="4.2" height="4.2" fill="#1e6af0"/>
<rect x="144.35" y="366.24" width="4.2" height="4.2" fill="#1e6af0"/>
<rect x="175" y="338.91" width="4.2" height="4.2" fill="#1e6af0"/>
<rect x="205.65" y="308.84" width="4.2" height="4.2" fill="#1e6af0"/>
<rect x="236.3" y="275.78" width="4.2" height="4.2" fill="#1e6af0"/>
<rect x="266.95" y="243.82" width="4.2" height="4.2" fill="#1e6af0"/>
<rect x="297.6" y="217.69" width="4.2" height="4.2" fill="#1e6af0"/>
<circle cx="54.5" cy="413.4" r="2.2" fill="#2e1a6e"/>
<circle cx="85.15" cy="407.75" r="2.2" fill="#2e1a6e"/>
<circle cx="115.8" cy="406.97" r="2.2" fill="#2e1a6e"/>
<circle cx="146.45" cy="405.95" r="2.2" fill="#2e1a6e"/>
<circle cx="177.1" cy="405.6" r="2.2" fill="#2e1a6e"/>
<circle cx="207.75" cy="402.26" r="2.2" fill="#2e1a6e"/>
<circle cx="238.4" cy="402.26" r="2.2" fill="#2e1a6e"/>
<circle cx="269.05" cy="399.18" r="2.2" fill="#2e1a6e"/>
<circle cx="299.7" cy="400.04" r="2.2" fill="#2e1a6e"/>
</g>
<circle cx="72.3" cy="159" r="2.2" fill="#2e1a6e"/>
<text x="95.7" y="161.9" font-size="8px">BktBcn</text>
<rect x="70.2" y="170.9" width="4.2" height="4.2" fill="#1e6af0"/>
<text x="95.7" y="175.9" font-size="8px">BktBbb</text>
<path d="M72.3 184.77 l2.04 3.89 h-4.07 z" fill="#1b8a9c"/>
<text x="95.7" y="189.8" font-size="8px">BktBcl</text>
<path d="M72.3 202.13 l2.04 -3.89 h-4.07 z" fill="#ff6a10"/>
<text x="95.7" y="202.9" font-size="8px">BktBbr</text>
<path d="M72.3 211.7 l2 2 l-2 2 l-2 -2 z" fill="#ff2a0a"/>
<text x="95.7" y="216.6" font-size="8px">BktBct</text>
<circle cx="72.3" cy="227.4" r="2.2" fill="#a890dc" stroke="#6a4ca8" stroke-width="0.7"/>
<text x="95.7" y="230.3" font-size="8px">BktBba</text>
<rect x="70.2" y="238.8" width="4.2" height="4.2" fill="#28b4f8" stroke="#2a9cf0" stroke-width="0.7"/>
<text x="95.7" y="243.8" font-size="8px">Neg. Cont. BSA</text>
<path d="M72.3 250.67 l2.04 3.89 h-4.07 z" fill="#a8e4f0" stroke="#2a9cb0" stroke-width="0.7"/>
<text x="95.7" y="255.7" font-size="8px">Neg. Cont. no protein</text>
<text x="183.6" y="446.8" font-size="8px" text-anchor="middle">Time (min<tspan font-size="5.2px" dy="-3.2">-1</tspan><tspan dy="3.2">)</tspan></text>
<text transform="translate(24.2,289.2) rotate(-90)" font-size="8px" text-anchor="middle">ΔAbs at 460 nm</text>
</g>
<g id="chartc" class="ct" font-size="8.5px" fill="#1c1c1c">
<path d="M410.4 156.9 V414 H668.1" stroke="#404040" stroke-width="1.05" fill="none"/>
<path d="M410.4 414 v8.1" stroke="#404040" stroke-width="1.05"/>
<text x="410.4" y="431.7" text-anchor="middle">0</text>
<path d="M474.7 414 v8.1" stroke="#404040" stroke-width="1.05"/>
<text x="474.7" y="431.7" text-anchor="middle">100</text>
<path d="M539 414 v8.1" stroke="#404040" stroke-width="1.05"/>
<text x="539" y="431.7" text-anchor="middle">200</text>
<path d="M603.3 414 v8.1" stroke="#404040" stroke-width="1.05"/>
<text x="603.3" y="431.7" text-anchor="middle">300</text>
<path d="M667.6 414 v8.1" stroke="#404040" stroke-width="1.05"/>
<text x="667.6" y="431.7" text-anchor="middle">400</text>
<path d="M410.4 414 h-7.8" stroke="#404040" stroke-width="1.05"/>
<text x="400" y="417.05" text-anchor="end">0</text>
<path d="M410.4 362.68 h-7.8" stroke="#404040" stroke-width="1.05"/>
<text x="400" y="365.73" text-anchor="end">20</text>
<path d="M410.4 311.36 h-7.8" stroke="#404040" stroke-width="1.05"/>
<text x="400" y="314.41" text-anchor="end">40</text>
<path d="M410.4 260.04 h-7.8" stroke="#404040" stroke-width="1.05"/>
<text x="400" y="263.09" text-anchor="end">60</text>
<path d="M410.4 208.72 h-7.8" stroke="#404040" stroke-width="1.05"/>
<text x="400" y="211.77" text-anchor="end">80</text>
<path d="M410.4 157.4 h-7.8" stroke="#404040" stroke-width="1.05"/>
<text x="400" y="160.45" text-anchor="end">100</text>
<g fill="none" stroke-width="0.82">
<polyline points="410.4,414 410.42,413.82 410.47,413.29 410.56,412.42 410.69,411.2 410.85,409.66 411.04,407.81 411.28,405.66 411.54,403.24 411.85,400.56 412.19,397.66 412.56,394.54 412.97,391.25 413.42,387.79 413.9,384.2 414.42,380.49 414.97,376.7 415.56,372.83 416.19,368.91 416.85,364.97 417.54,361.01 418.28,357.05 419.04,353.11 419.85,349.2 420.69,345.32 421.56,341.5 422.47,337.73 423.42,334.03 424.4,330.4 425.42,326.84 426.47,323.37 427.56,319.98 428.69,316.67 429.85,313.45 431.05,310.32 432.28,307.28 433.55,304.33 434.85,301.46 436.19,298.69 437.57,295.99 438.98,293.39 440.42,290.86 441.91,288.42 443.43,286.06 444.98,283.77 446.57,281.56 448.19,279.43 449.86,277.36 451.55,275.37 453.28,273.44 455.05,271.58 456.86,269.78 458.7,268.04 460.57,266.35 462.48,264.73 464.43,263.16 466.41,261.64 468.43,260.18 470.48,258.76 472.57,257.39 474.7,256.06 476.86,254.78 479.06,253.54 481.29,252.34 483.56,251.18 485.86,250.06 488.2,248.97 490.58,247.92 492.99,246.9 495.44,245.92 497.92,244.96 500.44,244.04 502.99,243.14 505.58,242.27 508.21,241.43 510.87,240.61 513.57,239.82 516.3,239.05 519.07,238.3 521.87,237.58 524.71,236.88 527.59,236.2 530.5,235.54 533.45,234.89 536.43,234.27 539.45,233.66 542.5,233.07 545.59,232.5 548.72,231.95 551.88,231.4 555.08,230.88 558.31,230.37 561.58,229.87 564.88,229.38 568.22,228.91 571.6,228.45 575.01,228 578.46,227.57 581.94,227.14 585.46,226.73 589.01,226.33 592.6,225.94 596.23,225.55 599.89,225.18 603.59,224.82 607.32,224.46 611.09,224.12 614.89,223.78 618.73,223.45 622.61,223.13 626.52,222.82 630.47,222.51 634.45,222.21 638.47,221.92 642.52,221.63 646.61,221.35 650.74,221.08 654.9,220.82 659.1,220.56 663.33,220.3 667.6,220.05" stroke="#4b3d8f"/>
<polyline points="410.4,414 410.42,413.85 410.47,413.4 410.56,412.64 410.69,411.6 410.85,410.28 411.04,408.68 411.28,406.83 411.54,404.73 411.85,402.41 412.19,399.88 412.56,397.16 412.97,394.26 413.42,391.22 413.9,388.04 414.42,384.74 414.97,381.35 415.56,377.88 416.19,374.35 416.85,370.78 417.54,367.18 418.28,363.56 419.04,359.93 419.85,356.32 420.69,352.72 421.56,349.16 422.47,345.63 423.42,342.14 424.4,338.71 425.42,335.33 426.47,332.02 427.56,328.77 428.69,325.59 429.85,322.48 431.05,319.44 432.28,316.48 433.55,313.59 434.85,310.78 436.19,308.04 437.57,305.38 438.98,302.8 440.42,300.29 441.91,297.85 443.43,295.48 444.98,293.19 446.57,290.96 448.19,288.81 449.86,286.72 451.55,284.69 453.28,282.73 455.05,280.83 456.86,278.98 458.7,277.2 460.57,275.47 462.48,273.8 464.43,272.18 466.41,270.61 468.43,269.09 470.48,267.62 472.57,266.19 474.7,264.81 476.86,263.48 479.06,262.18 481.29,260.93 483.56,259.71 485.86,258.53 488.2,257.39 490.58,256.28 492.99,255.2 495.44,254.16 497.92,253.15 500.44,252.17 502.99,251.22 505.58,250.3 508.21,249.41 510.87,248.54 513.57,247.69 516.3,246.87 519.07,246.08 521.87,245.31 524.71,244.56 527.59,243.83 530.5,243.12 533.45,242.43 536.43,241.76 539.45,241.11 542.5,240.48 545.59,239.86 548.72,239.26 551.88,238.68 555.08,238.11 558.31,237.56 561.58,237.02 564.88,236.5 568.22,235.99 571.6,235.49 575.01,235.01 578.46,234.54 581.94,234.08 585.46,233.63 589.01,233.19 592.6,232.77 596.23,232.35 599.89,231.95 603.59,231.55 607.32,231.17 611.09,230.79 614.89,230.42 618.73,230.07 622.61,229.72 626.52,229.37 630.47,229.04 634.45,228.71 638.47,228.4 642.52,228.08 646.61,227.78 650.74,227.48 654.9,227.19 659.1,226.91 663.33,226.63 667.6,226.36" stroke="#2f74f5"/>
<polyline points="410.4,414 410.42,413.86 410.47,413.42 410.56,412.7 410.69,411.71 410.85,410.44 411.04,408.91 411.28,407.14 411.54,405.13 411.85,402.91 412.19,400.48 412.56,397.87 412.97,395.09 413.42,392.16 413.9,389.1 414.42,385.93 414.97,382.66 415.56,379.32 416.19,375.91 416.85,372.46 417.54,368.98 418.28,365.47 419.04,361.97 419.85,358.46 420.69,354.97 421.56,351.51 422.47,348.08 423.42,344.69 424.4,341.35 425.42,338.05 426.47,334.82 427.56,331.65 428.69,328.54 429.85,325.5 431.05,322.53 432.28,319.62 433.55,316.79 434.85,314.04 436.19,311.35 437.57,308.74 438.98,306.2 440.42,303.73 441.91,301.33 443.43,299 444.98,296.74 446.57,294.54 448.19,292.42 449.86,290.35 451.55,288.35 453.28,286.41 455.05,284.53 456.86,282.71 458.7,280.95 460.57,279.24 462.48,277.58 464.43,275.97 466.41,274.42 468.43,272.91 470.48,271.45 472.57,270.04 474.7,268.67 476.86,267.34 479.06,266.05 481.29,264.8 483.56,263.6 485.86,262.42 488.2,261.29 490.58,260.18 492.99,259.11 495.44,258.08 497.92,257.07 500.44,256.1 502.99,255.15 505.58,254.23 508.21,253.34 510.87,252.47 513.57,251.63 516.3,250.82 519.07,250.02 521.87,249.25 524.71,248.5 527.59,247.77 530.5,247.07 533.45,246.38 536.43,245.71 539.45,245.06 542.5,244.43 545.59,243.81 548.72,243.22 551.88,242.63 555.08,242.07 558.31,241.51 561.58,240.98 564.88,240.45 568.22,239.94 571.6,239.45 575.01,238.96 578.46,238.49 581.94,238.03 585.46,237.58 589.01,237.14 592.6,236.72 596.23,236.3 599.89,235.9 603.59,235.5 607.32,235.12 611.09,234.74 614.89,234.37 618.73,234.01 622.61,233.66 626.52,233.32 630.47,232.98 634.45,232.66 638.47,232.34 642.52,232.03 646.61,231.72 650.74,231.42 654.9,231.13 659.1,230.85 663.33,230.57 667.6,230.3" stroke="#2a9a9e"/>
<polyline points="410.4,414 410.42,413.76 410.47,413.05 410.56,411.88 410.69,410.26 410.85,408.23 411.04,405.8 411.28,403.01 411.54,399.91 411.85,396.52 412.19,392.89 412.56,389.06 412.97,385.07 413.42,380.95 413.9,376.74 414.42,372.47 414.97,368.18 415.56,363.88 416.19,359.61 416.85,355.38 417.54,351.21 418.28,347.12 419.04,343.11 419.85,339.2 420.69,335.4 421.56,331.71 422.47,328.13 423.42,324.67 424.4,321.33 425.42,318.11 426.47,315.01 427.56,312.02 428.69,309.15 429.85,306.4 431.05,303.75 432.28,301.21 433.55,298.77 434.85,296.43 436.19,294.19 437.57,292.05 438.98,289.99 440.42,288.01 441.91,286.12 443.43,284.31 444.98,282.57 446.57,280.91 448.19,279.31 449.86,277.78 451.55,276.31 453.28,274.91 455.05,273.55 456.86,272.26 458.7,271.01 460.57,269.82 462.48,268.67 464.43,267.57 466.41,266.51 468.43,265.49 470.48,264.51 472.57,263.57 474.7,262.66 476.86,261.79 479.06,260.95 481.29,260.14 483.56,259.36 485.86,258.61 488.2,257.88 490.58,257.19 492.99,256.51 495.44,255.86 497.92,255.24 500.44,254.63 502.99,254.05 505.58,253.48 508.21,252.93 510.87,252.41 513.57,251.9 516.3,251.4 519.07,250.92 521.87,250.46 524.71,250.01 527.59,249.58 530.5,249.16 533.45,248.75 536.43,248.36 539.45,247.98 542.5,247.61 545.59,247.25 548.72,246.9 551.88,246.56 555.08,246.23 558.31,245.91 561.58,245.6 564.88,245.3 568.22,245.01 571.6,244.72 575.01,244.45 578.46,244.18 581.94,243.92 585.46,243.66 589.01,243.42 592.6,243.18 596.23,242.94 599.89,242.71 603.59,242.49 607.32,242.27 611.09,242.06 614.89,241.86 618.73,241.66 622.61,241.46 626.52,241.27 630.47,241.09 634.45,240.91 638.47,240.73 642.52,240.56 646.61,240.39 650.74,240.22 654.9,240.06 659.1,239.91 663.33,239.75 667.6,239.6" stroke="#ff8426"/>
<polyline points="410.4,414 410.42,413.74 410.47,412.97 410.56,411.7 410.69,409.95 410.85,407.72 411.04,405.05 411.28,401.97 411.54,398.51 411.85,394.7 412.19,390.59 412.56,386.2 412.97,381.57 413.42,376.75 413.9,371.77 414.42,366.66 414.97,361.46 415.56,356.19 416.19,350.9 416.85,345.59 417.54,340.3 418.28,335.05 419.04,329.84 419.85,324.71 420.69,319.66 421.56,314.71 422.47,309.86 423.42,305.12 424.4,300.5 425.42,296 426.47,291.63 427.56,287.38 428.69,283.27 429.85,279.28 431.05,275.42 432.28,271.68 433.55,268.07 434.85,264.59 436.19,261.22 437.57,257.98 438.98,254.85 440.42,251.82 441.91,248.91 443.43,246.11 444.98,243.4 446.57,240.79 448.19,238.28 449.86,235.86 451.55,233.53 453.28,231.29 455.05,229.12 456.86,227.03 458.7,225.02 460.57,223.09 462.48,221.22 464.43,219.42 466.41,217.68 468.43,216.01 470.48,214.39 472.57,212.83 474.7,211.33 476.86,209.87 479.06,208.47 481.29,207.12 483.56,205.81 485.86,204.55 488.2,203.33 490.58,202.15 492.99,201.01 495.44,199.91 497.92,198.84 500.44,197.81 502.99,196.81 505.58,195.84 508.21,194.91 510.87,194 513.57,193.12 516.3,192.27 519.07,191.45 521.87,190.65 524.71,189.88 527.59,189.13 530.5,188.4 533.45,187.69 536.43,187.01 539.45,186.34 542.5,185.69 545.59,185.07 548.72,184.46 551.88,183.86 555.08,183.29 558.31,182.73 561.58,182.18 564.88,181.66 568.22,181.14 571.6,180.64 575.01,180.15 578.46,179.68 581.94,179.22 585.46,178.77 589.01,178.33 592.6,177.91 596.23,177.49 599.89,177.09 603.59,176.69 607.32,176.31 611.09,175.93 614.89,175.57 618.73,175.21 622.61,174.87 626.52,174.53 630.47,174.2 634.45,173.87 638.47,173.56 642.52,173.25 646.61,172.95 650.74,172.66 654.9,172.37 659.1,172.09 663.33,171.82 667.6,171.55" stroke="#ff3c2c"/>
<polyline points="410.4,414 410.42,413.74 410.47,412.97 410.56,411.69 410.69,409.93 410.85,407.7 411.04,405.04 411.28,401.97 411.54,398.52 411.85,394.75 412.19,390.68 412.56,386.35 412.97,381.81 413.42,377.09 413.9,372.24 414.42,367.28 414.97,362.25 415.56,357.18 416.19,352.1 416.85,347.03 417.54,342 418.28,337.02 419.04,332.12 419.85,327.29 420.69,322.57 421.56,317.95 422.47,313.44 423.42,309.05 424.4,304.79 425.42,300.65 426.47,296.65 427.56,292.77 428.69,289.02 429.85,285.4 431.05,281.9 432.28,278.53 433.55,275.29 434.85,272.16 436.19,269.14 437.57,266.24 438.98,263.45 440.42,260.77 441.91,258.18 443.43,255.7 444.98,253.31 446.57,251.01 448.19,248.8 449.86,246.68 451.55,244.63 453.28,242.67 455.05,240.77 456.86,238.95 458.7,237.2 460.57,235.52 462.48,233.89 464.43,232.33 466.41,230.83 468.43,229.38 470.48,227.98 472.57,226.63 474.7,225.34 476.86,224.08 479.06,222.88 481.29,221.71 483.56,220.59 485.86,219.51 488.2,218.46 490.58,217.45 492.99,216.48 495.44,215.53 497.92,214.62 500.44,213.74 502.99,212.89 505.58,212.06 508.21,211.27 510.87,210.5 513.57,209.75 516.3,209.03 519.07,208.33 521.87,207.65 524.71,206.99 527.59,206.35 530.5,205.74 533.45,205.14 536.43,204.56 539.45,203.99 542.5,203.45 545.59,202.92 548.72,202.4 551.88,201.9 555.08,201.41 558.31,200.94 561.58,200.48 564.88,200.04 568.22,199.6 571.6,199.18 575.01,198.77 578.46,198.37 581.94,197.98 585.46,197.6 589.01,197.24 592.6,196.88 596.23,196.53 599.89,196.19 603.59,195.86 607.32,195.53 611.09,195.22 614.89,194.91 618.73,194.61 622.61,194.32 626.52,194.04 630.47,193.76 634.45,193.49 638.47,193.22 642.52,192.97 646.61,192.71 650.74,192.47 654.9,192.23 659.1,191.99 663.33,191.76 667.6,191.54" stroke="#b4a4e4"/>
<polyline points="410.4,414 410.42,413.54 410.47,412.18 410.56,409.97 410.69,406.99 410.85,403.34 411.04,399.13 411.28,394.49 411.54,389.53 411.85,384.37 412.19,379.1 412.56,373.81 412.97,368.58 413.42,363.46 413.9,358.49 414.42,353.71 414.97,349.14 415.56,344.79 416.19,340.67 416.85,336.78 417.54,333.12 418.28,329.68 419.04,326.45 419.85,323.42 420.69,320.59 421.56,317.93 422.47,315.45 423.42,313.13 424.4,310.96 425.42,308.92 426.47,307.02 427.56,305.24 428.69,303.57 429.85,302 431.05,300.53 432.28,299.15 433.55,297.86 434.85,296.64 436.19,295.49 437.57,294.42 438.98,293.4 440.42,292.44 441.91,291.53 443.43,290.68 444.98,289.87 446.57,289.11 448.19,288.38 449.86,287.7 451.55,287.05 453.28,286.43 455.05,285.85 456.86,285.29 458.7,284.76 460.57,284.26 462.48,283.78 464.43,283.32 466.41,282.89 468.43,282.47 470.48,282.07 472.57,281.69 474.7,281.33 476.86,280.99 479.06,280.66 481.29,280.34 483.56,280.03 485.86,279.74 488.2,279.46 490.58,279.2 492.99,278.94 495.44,278.69 497.92,278.45 500.44,278.23 502.99,278.01 505.58,277.8 508.21,277.59 510.87,277.4 513.57,277.21 516.3,277.03 519.07,276.85 521.87,276.68 524.71,276.52 527.59,276.36 530.5,276.21 533.45,276.06 536.43,275.92 539.45,275.78 542.5,275.65 545.59,275.52 548.72,275.4 551.88,275.28 555.08,275.16 558.31,275.05 561.58,274.94 564.88,274.83 568.22,274.73 571.6,274.63 575.01,274.53 578.46,274.44 581.94,274.35 585.46,274.26 589.01,274.17 592.6,274.09 596.23,274.01 599.89,273.93 603.59,273.85 607.32,273.77 611.09,273.7 614.89,273.63 618.73,273.56 622.61,273.49 626.52,273.43 630.47,273.37 634.45,273.3 638.47,273.24 642.52,273.18 646.61,273.13 650.74,273.07 654.9,273.02 659.1,272.96 663.33,272.91 667.6,272.86" stroke="#35d3fb"/>
</g>
<g>
<path d="M418.44 346 V325.47 M415.84 346 h5.2 M415.84 325.47 h5.2" stroke="#34acf4" stroke-width="0.72" fill="none"/>
<path d="M426.47 337.53 V311.87 M423.87 337.53 h5.2 M423.87 311.87 h5.2" stroke="#34acf4" stroke-width="0.72" fill="none"/>
<path d="M442.55 331.89 V294.42 M439.95 331.89 h5.2 M439.95 294.42 h5.2" stroke="#34acf4" stroke-width="0.72" fill="none"/>
<path d="M474.7 288.27 V262.61 M472.1 288.27 h5.2 M472.1 262.61 h5.2" stroke="#34acf4" stroke-width="0.72" fill="none"/>
<path d="M539 290.83 V278.52 M536.4 290.83 h5.2 M536.4 278.52 h5.2" stroke="#34acf4" stroke-width="0.72" fill="none"/>
<path d="M667.6 298.53 V270.3 M665 298.53 h5.2 M665 270.3 h5.2" stroke="#34acf4" stroke-width="0.72" fill="none"/>
<path d="M418.44 346.51 V325.99 M415.84 346.51 h5.2 M415.84 325.99 h5.2" stroke="#6a58a4" stroke-width="0.72" fill="none"/>
<path d="M426.47 302.38 V278.77 M423.87 302.38 h5.2 M423.87 278.77 h5.2" stroke="#6a58a4" stroke-width="0.72" fill="none"/>
<path d="M442.55 276.21 V246.95 M439.95 276.21 h5.2 M439.95 246.95 h5.2" stroke="#6a58a4" stroke-width="0.72" fill="none"/>
<path d="M474.7 262.86 V221.81 M472.1 262.86 h5.2 M472.1 221.81 h5.2" stroke="#6a58a4" stroke-width="0.72" fill="none"/>
<path d="M539 203.33 V181.26 M536.4 203.33 h5.2 M536.4 181.26 h5.2" stroke="#6a58a4" stroke-width="0.72" fill="none"/>
<path d="M667.6 203.33 V177.67 M665 203.33 h5.2 M665 177.67 h5.2" stroke="#6a58a4" stroke-width="0.72" fill="none"/>
<path d="M418.44 338.82 V310.59 M415.84 338.82 h5.2 M415.84 310.59 h5.2" stroke="#ff9a94" stroke-width="0.72" fill="none"/>
<path d="M426.47 319.31 V288.52 M423.87 319.31 h5.2 M423.87 288.52 h5.2" stroke="#ff9a94" stroke-width="0.72" fill="none"/>
<path d="M442.55 273.9 V229.25 M439.95 273.9 h5.2 M439.95 229.25 h5.2" stroke="#ff9a94" stroke-width="0.72" fill="none"/>
<path d="M474.7 213.85 V191.78 M472.1 213.85 h5.2 M472.1 191.78 h5.2" stroke="#ff9a94" stroke-width="0.72" fill="none"/>
<path d="M539 195.89 V177.41 M536.4 195.89 h5.2 M536.4 177.41 h5.2" stroke="#ff9a94" stroke-width="0.72" fill="none"/>
<path d="M667.6 183.06 V164.07 M665 183.06 h5.2 M665 164.07 h5.2" stroke="#ff9a94" stroke-width="0.72" fill="none"/>
<path d="M418.44 360.11 V288.27 M415.84 360.11 h5.2 M415.84 288.27 h5.2" stroke="#ffb490" stroke-width="0.72" fill="none"/>
<path d="M426.47 340.61 V299.56 M423.87 340.61 h5.2 M423.87 299.56 h5.2" stroke="#ffb490" stroke-width="0.72" fill="none"/>
<path d="M442.55 315.47 V289.81 M439.95 315.47 h5.2 M439.95 289.81 h5.2" stroke="#ffb490" stroke-width="0.72" fill="none"/>
<path d="M474.7 288.52 V273.13 M472.1 288.52 h5.2 M472.1 273.13 h5.2" stroke="#ffb490" stroke-width="0.72" fill="none"/>
<path d="M539 265.17 V234.38 M536.4 265.17 h5.2 M536.4 234.38 h5.2" stroke="#ffb490" stroke-width="0.72" fill="none"/>
<path d="M667.6 236.43 V205.38 M665 236.43 h5.2 M665 205.38 h5.2" stroke="#ffb490" stroke-width="0.72" fill="none"/>
<path d="M418.44 362.68 V347.28 M415.84 362.68 h5.2 M415.84 347.28 h5.2" stroke="#5cb8bc" stroke-width="0.72" fill="none"/>
<path d="M426.47 347.28 V326.76 M423.87 347.28 h5.2 M423.87 326.76 h5.2" stroke="#5cb8bc" stroke-width="0.72" fill="none"/>
<path d="M442.55 322.65 V296.99 M439.95 322.65 h5.2 M439.95 296.99 h5.2" stroke="#5cb8bc" stroke-width="0.72" fill="none"/>
<path d="M474.7 286.73 V255.93 M472.1 286.73 h5.2 M472.1 255.93 h5.2" stroke="#5cb8bc" stroke-width="0.72" fill="none"/>
<path d="M539 268.76 V227.71 M536.4 268.76 h5.2 M536.4 227.71 h5.2" stroke="#5cb8bc" stroke-width="0.72" fill="none"/>
<path d="M667.6 249.78 V193.32 M665 249.78 h5.2 M665 193.32 h5.2" stroke="#5cb8bc" stroke-width="0.72" fill="none"/>
<path d="M418.44 357.8 V342.41 M415.84 357.8 h5.2 M415.84 342.41 h5.2" stroke="#4f8ff5" stroke-width="0.72" fill="none"/>
<path d="M426.47 306.48 V283.39 M423.87 306.48 h5.2 M423.87 283.39 h5.2" stroke="#4f8ff5" stroke-width="0.72" fill="none"/>
<path d="M442.55 286.47 V269.53 M439.95 286.47 h5.2 M439.95 269.53 h5.2" stroke="#4f8ff5" stroke-width="0.72" fill="none"/>
<path d="M474.7 286.73 V261.07 M472.1 286.73 h5.2 M472.1 261.07 h5.2" stroke="#4f8ff5" stroke-width="0.72" fill="none"/>
<path d="M539 262.61 V226.68 M536.4 262.61 h5.2 M536.4 226.68 h5.2" stroke="#4f8ff5" stroke-width="0.72" fill="none"/>
<path d="M667.6 241.05 V200 M665 241.05 h5.2 M665 200 h5.2" stroke="#4f8ff5" stroke-width="0.72" fill="none"/>
<path d="M418.44 352.67 V337.28 M415.84 352.67 h5.2 M415.84 337.28 h5.2" stroke="#b8acdf" stroke-width="0.72" fill="none"/>
<path d="M426.47 341.9 V321.37 M423.87 341.9 h5.2 M423.87 321.37 h5.2" stroke="#b8acdf" stroke-width="0.72" fill="none"/>
<path d="M442.55 324.96 V253.11 M439.95 324.96 h5.2 M439.95 253.11 h5.2" stroke="#b8acdf" stroke-width="0.72" fill="none"/>
<path d="M474.7 287.75 V234.38 M472.1 287.75 h5.2 M472.1 234.38 h5.2" stroke="#b8acdf" stroke-width="0.72" fill="none"/>
<path d="M539 263.89 V216.16 M536.4 263.89 h5.2 M536.4 216.16 h5.2" stroke="#b8acdf" stroke-width="0.72" fill="none"/>
<path d="M667.6 258.76 V163.81 M665 258.76 h5.2 M665 163.81 h5.2" stroke="#b8acdf" stroke-width="0.72" fill="none"/>
</g>
<g>
<path d="M410.4 411.81 l2.09 3.99 h-4.18 z" fill="#28a8f8" stroke="#1e90e0" stroke-width="0.6"/>
<path d="M418.44 333.55 l2.09 3.99 h-4.18 z" fill="#28a8f8" stroke="#1e90e0" stroke-width="0.6"/>
<path d="M426.47 322.52 l2.09 3.99 h-4.18 z" fill="#28a8f8" stroke="#1e90e0" stroke-width="0.6"/>
<path d="M442.55 310.97 l2.09 3.99 h-4.18 z" fill="#28a8f8" stroke="#1e90e0" stroke-width="0.6"/>
<path d="M474.7 273.25 l2.09 3.99 h-4.18 z" fill="#28a8f8" stroke="#1e90e0" stroke-width="0.6"/>
<path d="M539 282.49 l2.09 3.99 h-4.18 z" fill="#28a8f8" stroke="#1e90e0" stroke-width="0.6"/>
<path d="M667.6 282.23 l2.09 3.99 h-4.18 z" fill="#28a8f8" stroke="#1e90e0" stroke-width="0.6"/>
<rect x="408.25" y="411.34" width="4.3" height="4.3" fill="#a890dc" stroke="#5a3c9c" stroke-width="0.6"/>
<rect x="416.29" y="334.1" width="4.3" height="4.3" fill="#a890dc" stroke="#5a3c9c" stroke-width="0.6"/>
<rect x="424.32" y="288.43" width="4.3" height="4.3" fill="#a890dc" stroke="#5a3c9c" stroke-width="0.6"/>
<rect x="440.4" y="259.43" width="4.3" height="4.3" fill="#a890dc" stroke="#5a3c9c" stroke-width="0.6"/>
<rect x="472.55" y="240.18" width="4.3" height="4.3" fill="#a890dc" stroke="#5a3c9c" stroke-width="0.6"/>
<rect x="536.85" y="190.15" width="4.3" height="4.3" fill="#a890dc" stroke="#5a3c9c" stroke-width="0.6"/>
<rect x="665.45" y="188.35" width="4.3" height="4.3" fill="#a890dc" stroke="#5a3c9c" stroke-width="0.6"/>
<circle cx="410.4" cy="414" r="2.25" fill="#ff1a0a"/>
<circle cx="418.44" cy="324.7" r="2.25" fill="#ff1a0a"/>
<circle cx="426.47" cy="303.92" r="2.25" fill="#ff1a0a"/>
<circle cx="442.55" cy="251.57" r="2.25" fill="#ff1a0a"/>
<circle cx="474.7" cy="202.82" r="2.25" fill="#ff1a0a"/>
<circle cx="539" cy="186.65" r="2.25" fill="#ff1a0a"/>
<circle cx="667.6" cy="173.57" r="2.25" fill="#ff1a0a"/>
<path d="M410.4 412 l2 2 l-2 2 l-2 -2 z" fill="#ff7a1a"/>
<path d="M418.44 322.19 l2 2 l-2 2 l-2 -2 z" fill="#ff7a1a"/>
<path d="M426.47 318.08 l2 2 l-2 2 l-2 -2 z" fill="#ff7a1a"/>
<path d="M442.55 300.64 l2 2 l-2 2 l-2 -2 z" fill="#ff7a1a"/>
<path d="M474.7 278.82 l2 2 l-2 2 l-2 -2 z" fill="#ff7a1a"/>
<path d="M539 247.78 l2 2 l-2 2 l-2 -2 z" fill="#ff7a1a"/>
<path d="M667.6 218.91 l2 2 l-2 2 l-2 -2 z" fill="#ff7a1a"/>
<path d="M410.4 416.19 l2.09 -3.99 h-4.18 z" fill="#1b8a9c"/>
<path d="M418.44 357.17 l2.09 -3.99 h-4.18 z" fill="#1b8a9c"/>
<path d="M426.47 339.2 l2.09 -3.99 h-4.18 z" fill="#1b8a9c"/>
<path d="M442.55 312.01 l2.09 -3.99 h-4.18 z" fill="#1b8a9c"/>
<path d="M474.7 273.52 l2.09 -3.99 h-4.18 z" fill="#1b8a9c"/>
<path d="M539 250.42 l2.09 -3.99 h-4.18 z" fill="#1b8a9c"/>
<path d="M667.6 223.74 l2.09 -3.99 h-4.18 z" fill="#1b8a9c"/>
<path d="M410.4 411.81 l2.09 3.99 h-4.18 z" fill="#2070f0"/>
<path d="M418.44 347.92 l2.09 3.99 h-4.18 z" fill="#2070f0"/>
<path d="M426.47 292.75 l2.09 3.99 h-4.18 z" fill="#2070f0"/>
<path d="M442.55 275.82 l2.09 3.99 h-4.18 z" fill="#2070f0"/>
<path d="M474.7 271.71 l2.09 3.99 h-4.18 z" fill="#2070f0"/>
<path d="M539 242.46 l2.09 3.99 h-4.18 z" fill="#2070f0"/>
<path d="M667.6 218.34 l2.09 3.99 h-4.18 z" fill="#2070f0"/>
<rect x="408.25" y="408" width="4.3" height="4.3" fill="#2e1a6e"/>
<rect x="416.29" y="342.82" width="4.3" height="4.3" fill="#2e1a6e"/>
<rect x="424.32" y="329.48" width="4.3" height="4.3" fill="#2e1a6e"/>
<rect x="440.4" y="286.89" width="4.3" height="4.3" fill="#2e1a6e"/>
<rect x="472.55" y="258.92" width="4.3" height="4.3" fill="#2e1a6e"/>
<rect x="536.85" y="237.88" width="4.3" height="4.3" fill="#2e1a6e"/>
<rect x="665.45" y="209.14" width="4.3" height="4.3" fill="#2e1a6e"/>
</g>
<path d="M512.2 359.9 h22" stroke="#4b3d8f" stroke-width="0.9"/>
<rect x="521.05" y="357.75" width="4.3" height="4.3" fill="#2e1a6e"/>
<text x="546.5" y="362.8" font-size="8px">BktBcn</text>
<path d="M512.2 373 h22" stroke="#2f74f5" stroke-width="0.9"/>
<path d="M523.2 370.81 l2.09 3.99 h-4.18 z" fill="#2070f0"/>
<text x="546.5" y="375.9" font-size="8px">BktBbb</text>
<path d="M512.2 386.1 h22" stroke="#2a9a9e" stroke-width="0.9"/>
<path d="M523.2 388.28 l2.09 -3.99 h-4.18 z" fill="#1b8a9c"/>
<text x="546.5" y="389" font-size="8px">BktBcl</text>
<path d="M512.2 399.2 h22" stroke="#ff8426" stroke-width="0.9"/>
<path d="M523.2 397.2 l2 2 l-2 2 l-2 -2 z" fill="#ff7a1a"/>
<text x="546.5" y="402.1" font-size="8px">BktBbr</text>
<path d="M605.9 359.9 h22" stroke="#ff3c2c" stroke-width="0.9"/>
<circle cx="616.9" cy="359.9" r="2.25" fill="#ff1a0a"/>
<text x="640.2" y="362.8" font-size="8px">BktBct</text>
<path d="M605.9 373 h22" stroke="#b4a4e4" stroke-width="0.9"/>
<rect x="614.75" y="370.85" width="4.3" height="4.3" fill="#a890dc" stroke="#5a3c9c" stroke-width="0.6"/>
<text x="640.2" y="375.9" font-size="8px">BktBba</text>
<path d="M605.9 386.1 h22" stroke="#35d3fb" stroke-width="0.9"/>
<path d="M616.9 383.91 l2.09 3.99 h-4.18 z" fill="#28a8f8" stroke="#1e90e0" stroke-width="0.6"/>
<text x="640.2" y="389" font-size="8px">2-PS</text>
<text x="539" y="446.8" font-size="8px" text-anchor="middle" textLength="119.5" lengthAdjust="spacing">[Acetyl-CoA or Malonyl-CoA] (µM)</text>
<text transform="translate(377.9,289.9) rotate(-90)" font-size="8px" text-anchor="middle">Rate (min<tspan font-size="5.2px" dy="-3.2">-1</tspan><tspan dy="3.2">)</tspan></text>
</g>
</svg>
</body>
</html>
